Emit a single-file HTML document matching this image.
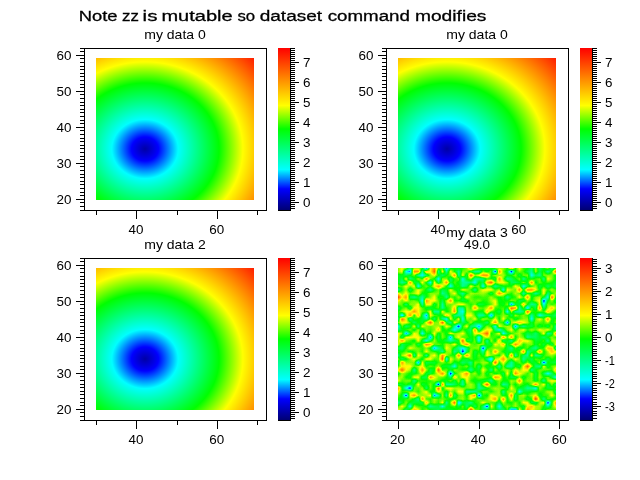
<!DOCTYPE html>
<html><head><meta charset="utf-8"><style>html,body{margin:0;padding:0;background:#fff;overflow:hidden}svg{display:block;will-change:transform}text{font-family:"Liberation Sans",sans-serif;fill:#000;opacity:0.999}</style></head>
<body><svg width="640" height="480" viewBox="0 0 640 480" shape-rendering="crispEdges">
<defs><linearGradient id="cb" x1="0" y1="1" x2="0" y2="0"><stop offset="0.0000" stop-color="#000073"/><stop offset="0.1300" stop-color="#0000ff"/><stop offset="0.2500" stop-color="#00ffff"/><stop offset="0.5000" stop-color="#00ff00"/><stop offset="0.6450" stop-color="#ffff00"/><stop offset="1.0000" stop-color="#ff0000"/></linearGradient>
<radialGradient id="r1" gradientUnits="userSpaceOnUse" cx="0" cy="0" r="38.575" gradientTransform="translate(145.00 149.00) scale(4.044 3.6)"><stop offset="0.0000" stop-color="#0000a6"/><stop offset="0.0866" stop-color="#0000ff"/><stop offset="0.2126" stop-color="#00ffff"/><stop offset="0.4750" stop-color="#00ff00"/><stop offset="0.6273" stop-color="#ffff00"/><stop offset="1.0000" stop-color="#ff0000"/></radialGradient>
<radialGradient id="r2" gradientUnits="userSpaceOnUse" cx="0" cy="0" r="38.575" gradientTransform="translate(447.00 149.00) scale(4.044 3.6)"><stop offset="0.0000" stop-color="#0000a6"/><stop offset="0.0866" stop-color="#0000ff"/><stop offset="0.2126" stop-color="#00ffff"/><stop offset="0.4750" stop-color="#00ff00"/><stop offset="0.6273" stop-color="#ffff00"/><stop offset="1.0000" stop-color="#ff0000"/></radialGradient>
<radialGradient id="r3" gradientUnits="userSpaceOnUse" cx="0" cy="0" r="38.575" gradientTransform="translate(145.00 359.00) scale(4.044 3.6)"><stop offset="0.0000" stop-color="#0000a6"/><stop offset="0.0866" stop-color="#0000ff"/><stop offset="0.2126" stop-color="#00ffff"/><stop offset="0.4750" stop-color="#00ff00"/><stop offset="0.6273" stop-color="#ffff00"/><stop offset="1.0000" stop-color="#ff0000"/></radialGradient>
<filter id="jet" filterUnits="userSpaceOnUse" x="380" y="250" width="200" height="180" color-interpolation-filters="sRGB"><feComponentTransfer><feFuncR type="table" tableValues="0 0 0 0 0 0 0 0 0 0 0 0 0 0 0 0 0 0 0 0 0 0 0 0 0 0 0 0 0 0 0 0 0 0 0 0 0 0 0 0 0 0 0 0 0 0 0 0 0 0 0 0 0 0 0 0 0 0 0 0 0 0 0 0 0 0 0 0 0 0 0 0 0 0 0 0 0 0 0 0 0 0 0 0 0 0 0 0 0 0 0 0 0 0 0 0 0 0 0 0 0 0.03448 0.06897 0.1034 0.1379 0.1724 0.2069 0.2414 0.2759 0.3103 0.3448 0.3793 0.4138 0.4483 0.4828 0.5172 0.5517 0.5862 0.6207 0.6552 0.6897 0.7241 0.7586 0.7931 0.8276 0.8621 0.8966 0.931 0.9655 1 1 1 1 1 1 1 1 1 1 1 1 1 1 1 1 1 1 1 1 1 1 1 1 1 1 1 1 1 1 1 1 1 1 1 1 1 1 1 1 1 1 1 1 1 1 1 1 1 1 1 1 1 1 1 1 1 1 1 1 1 1 1 1 1 1 1 1 1 1 1 1"/><feFuncG type="table" tableValues="0 0 0 0 0 0 0 0 0 0 0 0 0 0 0 0 0 0 0 0 0 0 0 0 0 0 0 0.04167 0.08333 0.125 0.1667 0.2083 0.25 0.2917 0.3333 0.375 0.4167 0.4583 0.5 0.5417 0.5833 0.625 0.6667 0.7083 0.75 0.7917 0.8333 0.875 0.9167 0.9583 1 1 1 1 1 1 1 1 1 1 1 1 1 1 1 1 1 1 1 1 1 1 1 1 1 1 1 1 1 1 1 1 1 1 1 1 1 1 1 1 1 1 1 1 1 1 1 1 1 1 1 1 1 1 1 1 1 1 1 1 1 1 1 1 1 1 1 1 1 1 1 1 1 1 1 1 1 1 1 1 0.9859 0.9718 0.9577 0.9437 0.9296 0.9155 0.9014 0.8873 0.8732 0.8592 0.8451 0.831 0.8169 0.8028 0.7887 0.7746 0.7606 0.7465 0.7324 0.7183 0.7042 0.6901 0.6761 0.662 0.6479 0.6338 0.6197 0.6056 0.5915 0.5775 0.5634 0.5493 0.5352 0.5211 0.507 0.493 0.4789 0.4648 0.4507 0.4366 0.4225 0.4085 0.3944 0.3803 0.3662 0.3521 0.338 0.3239 0.3099 0.2958 0.2817 0.2676 0.2535 0.2394 0.2254 0.2113 0.1972 0.1831 0.169 0.1549 0.1408 0.1268 0.1127 0.09859 0.08451 0.07042 0.05634 0.04225 0.02817 0.01408 0"/><feFuncB type="table" tableValues="0.451 0.4721 0.4932 0.5143 0.5354 0.5566 0.5777 0.5988 0.6199 0.641 0.6621 0.6833 0.7044 0.7255 0.7466 0.7677 0.7888 0.81 0.8311 0.8522 0.8733 0.8944 0.9155 0.9367 0.9578 0.9789 1 1 1 1 1 1 1 1 1 1 1 1 1 1 1 1 1 1 1 1 1 1 1 1 1 0.98 0.96 0.94 0.92 0.9 0.88 0.86 0.84 0.82 0.8 0.78 0.76 0.74 0.72 0.7 0.68 0.66 0.64 0.62 0.6 0.58 0.56 0.54 0.52 0.5 0.48 0.46 0.44 0.42 0.4 0.38 0.36 0.34 0.32 0.3 0.28 0.26 0.24 0.22 0.2 0.18 0.16 0.14 0.12 0.1 0.08 0.06 0.04 0.02 0 0 0 0 0 0 0 0 0 0 0 0 0 0 0 0 0 0 0 0 0 0 0 0 0 0 0 0 0 0 0 0 0 0 0 0 0 0 0 0 0 0 0 0 0 0 0 0 0 0 0 0 0 0 0 0 0 0 0 0 0 0 0 0 0 0 0 0 0 0 0 0 0 0 0 0 0 0 0 0 0 0 0 0 0 0 0 0 0 0 0 0 0 0 0 0 0 0 0 0 0"/></feComponentTransfer></filter>
<clipPath id="clip4"><rect x="398" y="268" width="158" height="142"/></clipPath>
<linearGradient id="row0" gradientUnits="userSpaceOnUse" x1="398" y1="0" x2="556" y2="0"><stop offset="0.0000" stop-color="#a6a6a6"/><stop offset="0.0256" stop-color="#8e8e8e"/><stop offset="0.0513" stop-color="#656565"/><stop offset="0.0769" stop-color="#8d8d8d"/><stop offset="0.1026" stop-color="#b8b8b8"/><stop offset="0.1282" stop-color="#a6a6a6"/><stop offset="0.1538" stop-color="#828282"/><stop offset="0.1795" stop-color="#949494"/><stop offset="0.2051" stop-color="#818181"/><stop offset="0.2308" stop-color="#747474"/><stop offset="0.2564" stop-color="#6d6d6d"/><stop offset="0.2821" stop-color="#8c8c8c"/><stop offset="0.3077" stop-color="#7b7b7b"/><stop offset="0.3333" stop-color="#757575"/><stop offset="0.3590" stop-color="#7b7b7b"/><stop offset="0.3846" stop-color="#898989"/><stop offset="0.4103" stop-color="#818181"/><stop offset="0.4359" stop-color="#818181"/><stop offset="0.4615" stop-color="#efefef"/><stop offset="0.4872" stop-color="#939393"/><stop offset="0.5128" stop-color="#8a8a8a"/><stop offset="0.5385" stop-color="#656565"/><stop offset="0.5641" stop-color="#7c7c7c"/><stop offset="0.5897" stop-color="#858585"/><stop offset="0.6154" stop-color="#848484"/><stop offset="0.6410" stop-color="#6d6d6d"/><stop offset="0.6667" stop-color="#676767"/><stop offset="0.6923" stop-color="#8b8b8b"/><stop offset="0.7179" stop-color="#2e2e2e"/><stop offset="0.7436" stop-color="#2e2e2e"/><stop offset="0.7692" stop-color="#a6a6a6"/><stop offset="0.7949" stop-color="#777777"/><stop offset="0.8205" stop-color="#cacaca"/><stop offset="0.8462" stop-color="#a6a6a6"/><stop offset="0.8718" stop-color="#989898"/><stop offset="0.8974" stop-color="#929292"/><stop offset="0.9231" stop-color="#757575"/><stop offset="0.9487" stop-color="#979797"/><stop offset="0.9744" stop-color="#898989"/><stop offset="1.0000" stop-color="#8a8a8a"/></linearGradient>
<linearGradient id="row1" gradientUnits="userSpaceOnUse" x1="398" y1="0" x2="556" y2="0"><stop offset="0.0000" stop-color="#858585"/><stop offset="0.0256" stop-color="#a6a6a6"/><stop offset="0.0513" stop-color="#8c8c8c"/><stop offset="0.0769" stop-color="#414141"/><stop offset="0.1026" stop-color="#989898"/><stop offset="0.1282" stop-color="#868686"/><stop offset="0.1538" stop-color="#858585"/><stop offset="0.1795" stop-color="#7d7d7d"/><stop offset="0.2051" stop-color="#5a5a5a"/><stop offset="0.2308" stop-color="#686868"/><stop offset="0.2564" stop-color="#707070"/><stop offset="0.2821" stop-color="#414141"/><stop offset="0.3077" stop-color="#787878"/><stop offset="0.3333" stop-color="#838383"/><stop offset="0.3590" stop-color="#8a8a8a"/><stop offset="0.3846" stop-color="#707070"/><stop offset="0.4103" stop-color="#8f8f8f"/><stop offset="0.4359" stop-color="#656565"/><stop offset="0.4615" stop-color="#8b8b8b"/><stop offset="0.4872" stop-color="#686868"/><stop offset="0.5128" stop-color="#8e8e8e"/><stop offset="0.5385" stop-color="#656565"/><stop offset="0.5641" stop-color="#1c1c1c"/><stop offset="0.5897" stop-color="#a6a6a6"/><stop offset="0.6154" stop-color="#818181"/><stop offset="0.6410" stop-color="#414141"/><stop offset="0.6667" stop-color="#808080"/><stop offset="0.6923" stop-color="#929292"/><stop offset="0.7179" stop-color="#888888"/><stop offset="0.7436" stop-color="#989898"/><stop offset="0.7692" stop-color="#858585"/><stop offset="0.7949" stop-color="#777777"/><stop offset="0.8205" stop-color="#a6a6a6"/><stop offset="0.8462" stop-color="#b8b8b8"/><stop offset="0.8718" stop-color="#989898"/><stop offset="0.8974" stop-color="#989898"/><stop offset="0.9231" stop-color="#808080"/><stop offset="0.9487" stop-color="#5a5a5a"/><stop offset="0.9744" stop-color="#8b8b8b"/><stop offset="1.0000" stop-color="#a6a6a6"/></linearGradient>
<linearGradient id="row2" gradientUnits="userSpaceOnUse" x1="398" y1="0" x2="556" y2="0"><stop offset="0.0000" stop-color="#5a5a5a"/><stop offset="0.0256" stop-color="#777777"/><stop offset="0.0513" stop-color="#939393"/><stop offset="0.0769" stop-color="#777777"/><stop offset="0.1026" stop-color="#727272"/><stop offset="0.1282" stop-color="#767676"/><stop offset="0.1538" stop-color="#6e6e6e"/><stop offset="0.1795" stop-color="#b8b8b8"/><stop offset="0.2051" stop-color="#848484"/><stop offset="0.2308" stop-color="#939393"/><stop offset="0.2564" stop-color="#858585"/><stop offset="0.2821" stop-color="#a6a6a6"/><stop offset="0.3077" stop-color="#5a5a5a"/><stop offset="0.3333" stop-color="#939393"/><stop offset="0.3590" stop-color="#dddddd"/><stop offset="0.3846" stop-color="#2e2e2e"/><stop offset="0.4103" stop-color="#717171"/><stop offset="0.4359" stop-color="#6c6c6c"/><stop offset="0.4615" stop-color="#5a5a5a"/><stop offset="0.4872" stop-color="#848484"/><stop offset="0.5128" stop-color="#888888"/><stop offset="0.5385" stop-color="#a6a6a6"/><stop offset="0.5641" stop-color="#8f8f8f"/><stop offset="0.5897" stop-color="#8c8c8c"/><stop offset="0.6154" stop-color="#868686"/><stop offset="0.6410" stop-color="#6d6d6d"/><stop offset="0.6667" stop-color="#989898"/><stop offset="0.6923" stop-color="#818181"/><stop offset="0.7179" stop-color="#7f7f7f"/><stop offset="0.7436" stop-color="#929292"/><stop offset="0.7692" stop-color="#818181"/><stop offset="0.7949" stop-color="#a6a6a6"/><stop offset="0.8205" stop-color="#a6a6a6"/><stop offset="0.8462" stop-color="#717171"/><stop offset="0.8718" stop-color="#6e6e6e"/><stop offset="0.8974" stop-color="#989898"/><stop offset="0.9231" stop-color="#a6a6a6"/><stop offset="0.9487" stop-color="#1c1c1c"/><stop offset="0.9744" stop-color="#7d7d7d"/><stop offset="1.0000" stop-color="#cacaca"/></linearGradient>
<linearGradient id="row3" gradientUnits="userSpaceOnUse" x1="398" y1="0" x2="556" y2="0"><stop offset="0.0000" stop-color="#818181"/><stop offset="0.0256" stop-color="#7c7c7c"/><stop offset="0.0513" stop-color="#858585"/><stop offset="0.0769" stop-color="#8e8e8e"/><stop offset="0.1026" stop-color="#787878"/><stop offset="0.1282" stop-color="#5a5a5a"/><stop offset="0.1538" stop-color="#cacaca"/><stop offset="0.1795" stop-color="#888888"/><stop offset="0.2051" stop-color="#828282"/><stop offset="0.2308" stop-color="#989898"/><stop offset="0.2564" stop-color="#898989"/><stop offset="0.2821" stop-color="#8e8e8e"/><stop offset="0.3077" stop-color="#8b8b8b"/><stop offset="0.3333" stop-color="#797979"/><stop offset="0.3590" stop-color="#808080"/><stop offset="0.3846" stop-color="#929292"/><stop offset="0.4103" stop-color="#979797"/><stop offset="0.4359" stop-color="#838383"/><stop offset="0.4615" stop-color="#a6a6a6"/><stop offset="0.4872" stop-color="#838383"/><stop offset="0.5128" stop-color="#929292"/><stop offset="0.5385" stop-color="#7f7f7f"/><stop offset="0.5641" stop-color="#909090"/><stop offset="0.5897" stop-color="#a6a6a6"/><stop offset="0.6154" stop-color="#cacaca"/><stop offset="0.6410" stop-color="#808080"/><stop offset="0.6667" stop-color="#cacaca"/><stop offset="0.6923" stop-color="#797979"/><stop offset="0.7179" stop-color="#a6a6a6"/><stop offset="0.7436" stop-color="#6b6b6b"/><stop offset="0.7692" stop-color="#919191"/><stop offset="0.7949" stop-color="#8d8d8d"/><stop offset="0.8205" stop-color="#737373"/><stop offset="0.8462" stop-color="#818181"/><stop offset="0.8718" stop-color="#efefef"/><stop offset="0.8974" stop-color="#8f8f8f"/><stop offset="0.9231" stop-color="#5a5a5a"/><stop offset="0.9487" stop-color="#8e8e8e"/><stop offset="0.9744" stop-color="#7e7e7e"/><stop offset="1.0000" stop-color="#7f7f7f"/></linearGradient>
<linearGradient id="row4" gradientUnits="userSpaceOnUse" x1="398" y1="0" x2="556" y2="0"><stop offset="0.0000" stop-color="#8f8f8f"/><stop offset="0.0256" stop-color="#797979"/><stop offset="0.0513" stop-color="#1c1c1c"/><stop offset="0.0769" stop-color="#a6a6a6"/><stop offset="0.1026" stop-color="#cacaca"/><stop offset="0.1282" stop-color="#989898"/><stop offset="0.1538" stop-color="#939393"/><stop offset="0.1795" stop-color="#989898"/><stop offset="0.2051" stop-color="#a6a6a6"/><stop offset="0.2308" stop-color="#2e2e2e"/><stop offset="0.2564" stop-color="#5a5a5a"/><stop offset="0.2821" stop-color="#989898"/><stop offset="0.3077" stop-color="#5a5a5a"/><stop offset="0.3333" stop-color="#cacaca"/><stop offset="0.3590" stop-color="#656565"/><stop offset="0.3846" stop-color="#8d8d8d"/><stop offset="0.4103" stop-color="#929292"/><stop offset="0.4359" stop-color="#7c7c7c"/><stop offset="0.4615" stop-color="#a6a6a6"/><stop offset="0.4872" stop-color="#cacaca"/><stop offset="0.5128" stop-color="#1c1c1c"/><stop offset="0.5385" stop-color="#858585"/><stop offset="0.5641" stop-color="#7c7c7c"/><stop offset="0.5897" stop-color="#a6a6a6"/><stop offset="0.6154" stop-color="#989898"/><stop offset="0.6410" stop-color="#989898"/><stop offset="0.6667" stop-color="#797979"/><stop offset="0.6923" stop-color="#838383"/><stop offset="0.7179" stop-color="#cacaca"/><stop offset="0.7436" stop-color="#6a6a6a"/><stop offset="0.7692" stop-color="#929292"/><stop offset="0.7949" stop-color="#989898"/><stop offset="0.8205" stop-color="#858585"/><stop offset="0.8462" stop-color="#979797"/><stop offset="0.8718" stop-color="#a6a6a6"/><stop offset="0.8974" stop-color="#777777"/><stop offset="0.9231" stop-color="#888888"/><stop offset="0.9487" stop-color="#878787"/><stop offset="0.9744" stop-color="#a6a6a6"/><stop offset="1.0000" stop-color="#858585"/></linearGradient>
<linearGradient id="row5" gradientUnits="userSpaceOnUse" x1="398" y1="0" x2="556" y2="0"><stop offset="0.0000" stop-color="#a6a6a6"/><stop offset="0.0256" stop-color="#848484"/><stop offset="0.0513" stop-color="#909090"/><stop offset="0.0769" stop-color="#949494"/><stop offset="0.1026" stop-color="#939393"/><stop offset="0.1282" stop-color="#848484"/><stop offset="0.1538" stop-color="#989898"/><stop offset="0.1795" stop-color="#a6a6a6"/><stop offset="0.2051" stop-color="#7d7d7d"/><stop offset="0.2308" stop-color="#808080"/><stop offset="0.2564" stop-color="#a6a6a6"/><stop offset="0.2821" stop-color="#8f8f8f"/><stop offset="0.3077" stop-color="#757575"/><stop offset="0.3333" stop-color="#989898"/><stop offset="0.3590" stop-color="#868686"/><stop offset="0.3846" stop-color="#a6a6a6"/><stop offset="0.4103" stop-color="#a6a6a6"/><stop offset="0.4359" stop-color="#5a5a5a"/><stop offset="0.4615" stop-color="#5a5a5a"/><stop offset="0.4872" stop-color="#5a5a5a"/><stop offset="0.5128" stop-color="#757575"/><stop offset="0.5385" stop-color="#929292"/><stop offset="0.5641" stop-color="#8f8f8f"/><stop offset="0.5897" stop-color="#808080"/><stop offset="0.6154" stop-color="#909090"/><stop offset="0.6410" stop-color="#989898"/><stop offset="0.6667" stop-color="#5a5a5a"/><stop offset="0.6923" stop-color="#929292"/><stop offset="0.7179" stop-color="#919191"/><stop offset="0.7436" stop-color="#989898"/><stop offset="0.7692" stop-color="#414141"/><stop offset="0.7949" stop-color="#757575"/><stop offset="0.8205" stop-color="#797979"/><stop offset="0.8462" stop-color="#818181"/><stop offset="0.8718" stop-color="#848484"/><stop offset="0.8974" stop-color="#848484"/><stop offset="0.9231" stop-color="#858585"/><stop offset="0.9487" stop-color="#989898"/><stop offset="0.9744" stop-color="#989898"/><stop offset="1.0000" stop-color="#686868"/></linearGradient>
<linearGradient id="row6" gradientUnits="userSpaceOnUse" x1="398" y1="0" x2="556" y2="0"><stop offset="0.0000" stop-color="#cacaca"/><stop offset="0.0256" stop-color="#7f7f7f"/><stop offset="0.0513" stop-color="#414141"/><stop offset="0.0769" stop-color="#1c1c1c"/><stop offset="0.1026" stop-color="#8f8f8f"/><stop offset="0.1282" stop-color="#8c8c8c"/><stop offset="0.1538" stop-color="#989898"/><stop offset="0.1795" stop-color="#656565"/><stop offset="0.2051" stop-color="#909090"/><stop offset="0.2308" stop-color="#7a7a7a"/><stop offset="0.2564" stop-color="#dddddd"/><stop offset="0.2821" stop-color="#767676"/><stop offset="0.3077" stop-color="#a6a6a6"/><stop offset="0.3333" stop-color="#a6a6a6"/><stop offset="0.3590" stop-color="#989898"/><stop offset="0.3846" stop-color="#989898"/><stop offset="0.4103" stop-color="#929292"/><stop offset="0.4359" stop-color="#8f8f8f"/><stop offset="0.4615" stop-color="#959595"/><stop offset="0.4872" stop-color="#8b8b8b"/><stop offset="0.5128" stop-color="#5a5a5a"/><stop offset="0.5385" stop-color="#656565"/><stop offset="0.5641" stop-color="#787878"/><stop offset="0.5897" stop-color="#8e8e8e"/><stop offset="0.6154" stop-color="#989898"/><stop offset="0.6410" stop-color="#929292"/><stop offset="0.6667" stop-color="#929292"/><stop offset="0.6923" stop-color="#747474"/><stop offset="0.7179" stop-color="#a6a6a6"/><stop offset="0.7436" stop-color="#8a8a8a"/><stop offset="0.7692" stop-color="#787878"/><stop offset="0.7949" stop-color="#717171"/><stop offset="0.8205" stop-color="#5a5a5a"/><stop offset="0.8462" stop-color="#5a5a5a"/><stop offset="0.8718" stop-color="#414141"/><stop offset="0.8974" stop-color="#989898"/><stop offset="0.9231" stop-color="#858585"/><stop offset="0.9487" stop-color="#737373"/><stop offset="0.9744" stop-color="#707070"/><stop offset="1.0000" stop-color="#8b8b8b"/></linearGradient>
<linearGradient id="row7" gradientUnits="userSpaceOnUse" x1="398" y1="0" x2="556" y2="0"><stop offset="0.0000" stop-color="#696969"/><stop offset="0.0256" stop-color="#7a7a7a"/><stop offset="0.0513" stop-color="#848484"/><stop offset="0.0769" stop-color="#757575"/><stop offset="0.1026" stop-color="#7a7a7a"/><stop offset="0.1282" stop-color="#a6a6a6"/><stop offset="0.1538" stop-color="#747474"/><stop offset="0.1795" stop-color="#7c7c7c"/><stop offset="0.2051" stop-color="#909090"/><stop offset="0.2308" stop-color="#7b7b7b"/><stop offset="0.2564" stop-color="#1c1c1c"/><stop offset="0.2821" stop-color="#cacaca"/><stop offset="0.3077" stop-color="#5a5a5a"/><stop offset="0.3333" stop-color="#5a5a5a"/><stop offset="0.3590" stop-color="#6c6c6c"/><stop offset="0.3846" stop-color="#7f7f7f"/><stop offset="0.4103" stop-color="#5a5a5a"/><stop offset="0.4359" stop-color="#929292"/><stop offset="0.4615" stop-color="#989898"/><stop offset="0.4872" stop-color="#898989"/><stop offset="0.5128" stop-color="#5a5a5a"/><stop offset="0.5385" stop-color="#969696"/><stop offset="0.5641" stop-color="#dddddd"/><stop offset="0.5897" stop-color="#818181"/><stop offset="0.6154" stop-color="#7a7a7a"/><stop offset="0.6410" stop-color="#929292"/><stop offset="0.6667" stop-color="#5a5a5a"/><stop offset="0.6923" stop-color="#6a6a6a"/><stop offset="0.7179" stop-color="#929292"/><stop offset="0.7436" stop-color="#7c7c7c"/><stop offset="0.7692" stop-color="#919191"/><stop offset="0.7949" stop-color="#838383"/><stop offset="0.8205" stop-color="#797979"/><stop offset="0.8462" stop-color="#929292"/><stop offset="0.8718" stop-color="#cacaca"/><stop offset="0.8974" stop-color="#8c8c8c"/><stop offset="0.9231" stop-color="#a6a6a6"/><stop offset="0.9487" stop-color="#6a6a6a"/><stop offset="0.9744" stop-color="#929292"/><stop offset="1.0000" stop-color="#656565"/></linearGradient>
<linearGradient id="row8" gradientUnits="userSpaceOnUse" x1="398" y1="0" x2="556" y2="0"><stop offset="0.0000" stop-color="#a6a6a6"/><stop offset="0.0256" stop-color="#8a8a8a"/><stop offset="0.0513" stop-color="#909090"/><stop offset="0.0769" stop-color="#929292"/><stop offset="0.1026" stop-color="#5a5a5a"/><stop offset="0.1282" stop-color="#828282"/><stop offset="0.1538" stop-color="#878787"/><stop offset="0.1795" stop-color="#848484"/><stop offset="0.2051" stop-color="#848484"/><stop offset="0.2308" stop-color="#929292"/><stop offset="0.2564" stop-color="#8b8b8b"/><stop offset="0.2821" stop-color="#7a7a7a"/><stop offset="0.3077" stop-color="#7c7c7c"/><stop offset="0.3333" stop-color="#929292"/><stop offset="0.3590" stop-color="#727272"/><stop offset="0.3846" stop-color="#989898"/><stop offset="0.4103" stop-color="#5a5a5a"/><stop offset="0.4359" stop-color="#a6a6a6"/><stop offset="0.4615" stop-color="#848484"/><stop offset="0.4872" stop-color="#7a7a7a"/><stop offset="0.5128" stop-color="#7f7f7f"/><stop offset="0.5385" stop-color="#747474"/><stop offset="0.5641" stop-color="#767676"/><stop offset="0.5897" stop-color="#5a5a5a"/><stop offset="0.6154" stop-color="#818181"/><stop offset="0.6410" stop-color="#929292"/><stop offset="0.6667" stop-color="#808080"/><stop offset="0.6923" stop-color="#7e7e7e"/><stop offset="0.7179" stop-color="#989898"/><stop offset="0.7436" stop-color="#929292"/><stop offset="0.7692" stop-color="#cacaca"/><stop offset="0.7949" stop-color="#858585"/><stop offset="0.8205" stop-color="#929292"/><stop offset="0.8462" stop-color="#919191"/><stop offset="0.8718" stop-color="#767676"/><stop offset="0.8974" stop-color="#8b8b8b"/><stop offset="0.9231" stop-color="#5a5a5a"/><stop offset="0.9487" stop-color="#989898"/><stop offset="0.9744" stop-color="#a6a6a6"/><stop offset="1.0000" stop-color="#a6a6a6"/></linearGradient>
<linearGradient id="row9" gradientUnits="userSpaceOnUse" x1="398" y1="0" x2="556" y2="0"><stop offset="0.0000" stop-color="#929292"/><stop offset="0.0256" stop-color="#989898"/><stop offset="0.0513" stop-color="#7e7e7e"/><stop offset="0.0769" stop-color="#797979"/><stop offset="0.1026" stop-color="#a6a6a6"/><stop offset="0.1282" stop-color="#a6a6a6"/><stop offset="0.1538" stop-color="#6f6f6f"/><stop offset="0.1795" stop-color="#6c6c6c"/><stop offset="0.2051" stop-color="#cacaca"/><stop offset="0.2308" stop-color="#a6a6a6"/><stop offset="0.2564" stop-color="#929292"/><stop offset="0.2821" stop-color="#8f8f8f"/><stop offset="0.3077" stop-color="#818181"/><stop offset="0.3333" stop-color="#656565"/><stop offset="0.3590" stop-color="#b8b8b8"/><stop offset="0.3846" stop-color="#878787"/><stop offset="0.4103" stop-color="#a6a6a6"/><stop offset="0.4359" stop-color="#a6a6a6"/><stop offset="0.4615" stop-color="#8f8f8f"/><stop offset="0.4872" stop-color="#858585"/><stop offset="0.5128" stop-color="#929292"/><stop offset="0.5385" stop-color="#939393"/><stop offset="0.5641" stop-color="#858585"/><stop offset="0.5897" stop-color="#828282"/><stop offset="0.6154" stop-color="#cacaca"/><stop offset="0.6410" stop-color="#b8b8b8"/><stop offset="0.6667" stop-color="#7b7b7b"/><stop offset="0.6923" stop-color="#898989"/><stop offset="0.7179" stop-color="#6b6b6b"/><stop offset="0.7436" stop-color="#707070"/><stop offset="0.7692" stop-color="#929292"/><stop offset="0.7949" stop-color="#757575"/><stop offset="0.8205" stop-color="#8a8a8a"/><stop offset="0.8462" stop-color="#929292"/><stop offset="0.8718" stop-color="#717171"/><stop offset="0.8974" stop-color="#989898"/><stop offset="0.9231" stop-color="#838383"/><stop offset="0.9487" stop-color="#929292"/><stop offset="0.9744" stop-color="#707070"/><stop offset="1.0000" stop-color="#414141"/></linearGradient>
<linearGradient id="row10" gradientUnits="userSpaceOnUse" x1="398" y1="0" x2="556" y2="0"><stop offset="0.0000" stop-color="#757575"/><stop offset="0.0256" stop-color="#989898"/><stop offset="0.0513" stop-color="#8d8d8d"/><stop offset="0.0769" stop-color="#7d7d7d"/><stop offset="0.1026" stop-color="#7a7a7a"/><stop offset="0.1282" stop-color="#8a8a8a"/><stop offset="0.1538" stop-color="#a6a6a6"/><stop offset="0.1795" stop-color="#767676"/><stop offset="0.2051" stop-color="#737373"/><stop offset="0.2308" stop-color="#8a8a8a"/><stop offset="0.2564" stop-color="#a6a6a6"/><stop offset="0.2821" stop-color="#cacaca"/><stop offset="0.3077" stop-color="#909090"/><stop offset="0.3333" stop-color="#1c1c1c"/><stop offset="0.3590" stop-color="#7d7d7d"/><stop offset="0.3846" stop-color="#939393"/><stop offset="0.4103" stop-color="#a6a6a6"/><stop offset="0.4359" stop-color="#cacaca"/><stop offset="0.4615" stop-color="#8b8b8b"/><stop offset="0.4872" stop-color="#989898"/><stop offset="0.5128" stop-color="#797979"/><stop offset="0.5385" stop-color="#989898"/><stop offset="0.5641" stop-color="#747474"/><stop offset="0.5897" stop-color="#929292"/><stop offset="0.6154" stop-color="#7a7a7a"/><stop offset="0.6410" stop-color="#898989"/><stop offset="0.6667" stop-color="#6e6e6e"/><stop offset="0.6923" stop-color="#a6a6a6"/><stop offset="0.7179" stop-color="#747474"/><stop offset="0.7436" stop-color="#cacaca"/><stop offset="0.7692" stop-color="#a6a6a6"/><stop offset="0.7949" stop-color="#989898"/><stop offset="0.8205" stop-color="#858585"/><stop offset="0.8462" stop-color="#989898"/><stop offset="0.8718" stop-color="#707070"/><stop offset="0.8974" stop-color="#929292"/><stop offset="0.9231" stop-color="#6e6e6e"/><stop offset="0.9487" stop-color="#414141"/><stop offset="0.9744" stop-color="#6a6a6a"/><stop offset="1.0000" stop-color="#8a8a8a"/></linearGradient>
<linearGradient id="row11" gradientUnits="userSpaceOnUse" x1="398" y1="0" x2="556" y2="0"><stop offset="0.0000" stop-color="#a6a6a6"/><stop offset="0.0256" stop-color="#dddddd"/><stop offset="0.0513" stop-color="#a6a6a6"/><stop offset="0.0769" stop-color="#989898"/><stop offset="0.1026" stop-color="#5a5a5a"/><stop offset="0.1282" stop-color="#8e8e8e"/><stop offset="0.1538" stop-color="#cacaca"/><stop offset="0.1795" stop-color="#989898"/><stop offset="0.2051" stop-color="#707070"/><stop offset="0.2308" stop-color="#7f7f7f"/><stop offset="0.2564" stop-color="#dddddd"/><stop offset="0.2821" stop-color="#868686"/><stop offset="0.3077" stop-color="#8e8e8e"/><stop offset="0.3333" stop-color="#777777"/><stop offset="0.3590" stop-color="#989898"/><stop offset="0.3846" stop-color="#898989"/><stop offset="0.4103" stop-color="#808080"/><stop offset="0.4359" stop-color="#797979"/><stop offset="0.4615" stop-color="#5a5a5a"/><stop offset="0.4872" stop-color="#7e7e7e"/><stop offset="0.5128" stop-color="#757575"/><stop offset="0.5385" stop-color="#a6a6a6"/><stop offset="0.5641" stop-color="#8b8b8b"/><stop offset="0.5897" stop-color="#5a5a5a"/><stop offset="0.6154" stop-color="#989898"/><stop offset="0.6410" stop-color="#7d7d7d"/><stop offset="0.6667" stop-color="#929292"/><stop offset="0.6923" stop-color="#989898"/><stop offset="0.7179" stop-color="#868686"/><stop offset="0.7436" stop-color="#a6a6a6"/><stop offset="0.7692" stop-color="#929292"/><stop offset="0.7949" stop-color="#a6a6a6"/><stop offset="0.8205" stop-color="#a6a6a6"/><stop offset="0.8462" stop-color="#5a5a5a"/><stop offset="0.8718" stop-color="#7f7f7f"/><stop offset="0.8974" stop-color="#8f8f8f"/><stop offset="0.9231" stop-color="#8e8e8e"/><stop offset="0.9487" stop-color="#929292"/><stop offset="0.9744" stop-color="#838383"/><stop offset="1.0000" stop-color="#b8b8b8"/></linearGradient>
<linearGradient id="row12" gradientUnits="userSpaceOnUse" x1="398" y1="0" x2="556" y2="0"><stop offset="0.0000" stop-color="#838383"/><stop offset="0.0256" stop-color="#a6a6a6"/><stop offset="0.0513" stop-color="#a6a6a6"/><stop offset="0.0769" stop-color="#a6a6a6"/><stop offset="0.1026" stop-color="#8c8c8c"/><stop offset="0.1282" stop-color="#989898"/><stop offset="0.1538" stop-color="#a6a6a6"/><stop offset="0.1795" stop-color="#7f7f7f"/><stop offset="0.2051" stop-color="#8e8e8e"/><stop offset="0.2308" stop-color="#848484"/><stop offset="0.2564" stop-color="#989898"/><stop offset="0.2821" stop-color="#777777"/><stop offset="0.3077" stop-color="#767676"/><stop offset="0.3333" stop-color="#6e6e6e"/><stop offset="0.3590" stop-color="#414141"/><stop offset="0.3846" stop-color="#8b8b8b"/><stop offset="0.4103" stop-color="#858585"/><stop offset="0.4359" stop-color="#929292"/><stop offset="0.4615" stop-color="#6e6e6e"/><stop offset="0.4872" stop-color="#8d8d8d"/><stop offset="0.5128" stop-color="#656565"/><stop offset="0.5385" stop-color="#8e8e8e"/><stop offset="0.5641" stop-color="#777777"/><stop offset="0.5897" stop-color="#858585"/><stop offset="0.6154" stop-color="#808080"/><stop offset="0.6410" stop-color="#5a5a5a"/><stop offset="0.6667" stop-color="#909090"/><stop offset="0.6923" stop-color="#5a5a5a"/><stop offset="0.7179" stop-color="#5a5a5a"/><stop offset="0.7436" stop-color="#7d7d7d"/><stop offset="0.7692" stop-color="#717171"/><stop offset="0.7949" stop-color="#a6a6a6"/><stop offset="0.8205" stop-color="#dddddd"/><stop offset="0.8462" stop-color="#989898"/><stop offset="0.8718" stop-color="#656565"/><stop offset="0.8974" stop-color="#5a5a5a"/><stop offset="0.9231" stop-color="#a6a6a6"/><stop offset="0.9487" stop-color="#747474"/><stop offset="0.9744" stop-color="#8c8c8c"/><stop offset="1.0000" stop-color="#959595"/></linearGradient>
<linearGradient id="row13" gradientUnits="userSpaceOnUse" x1="398" y1="0" x2="556" y2="0"><stop offset="0.0000" stop-color="#656565"/><stop offset="0.0256" stop-color="#cacaca"/><stop offset="0.0513" stop-color="#959595"/><stop offset="0.0769" stop-color="#939393"/><stop offset="0.1026" stop-color="#929292"/><stop offset="0.1282" stop-color="#2e2e2e"/><stop offset="0.1538" stop-color="#a6a6a6"/><stop offset="0.1795" stop-color="#6d6d6d"/><stop offset="0.2051" stop-color="#727272"/><stop offset="0.2308" stop-color="#757575"/><stop offset="0.2564" stop-color="#878787"/><stop offset="0.2821" stop-color="#929292"/><stop offset="0.3077" stop-color="#848484"/><stop offset="0.3333" stop-color="#959595"/><stop offset="0.3590" stop-color="#777777"/><stop offset="0.3846" stop-color="#808080"/><stop offset="0.4103" stop-color="#656565"/><stop offset="0.4359" stop-color="#737373"/><stop offset="0.4615" stop-color="#5a5a5a"/><stop offset="0.4872" stop-color="#929292"/><stop offset="0.5128" stop-color="#8a8a8a"/><stop offset="0.5385" stop-color="#989898"/><stop offset="0.5641" stop-color="#969696"/><stop offset="0.5897" stop-color="#737373"/><stop offset="0.6154" stop-color="#dddddd"/><stop offset="0.6410" stop-color="#828282"/><stop offset="0.6667" stop-color="#a6a6a6"/><stop offset="0.6923" stop-color="#7f7f7f"/><stop offset="0.7179" stop-color="#5a5a5a"/><stop offset="0.7436" stop-color="#7f7f7f"/><stop offset="0.7692" stop-color="#8f8f8f"/><stop offset="0.7949" stop-color="#787878"/><stop offset="0.8205" stop-color="#929292"/><stop offset="0.8462" stop-color="#787878"/><stop offset="0.8718" stop-color="#787878"/><stop offset="0.8974" stop-color="#969696"/><stop offset="0.9231" stop-color="#1c1c1c"/><stop offset="0.9487" stop-color="#828282"/><stop offset="0.9744" stop-color="#757575"/><stop offset="1.0000" stop-color="#717171"/></linearGradient>
<linearGradient id="row14" gradientUnits="userSpaceOnUse" x1="398" y1="0" x2="556" y2="0"><stop offset="0.0000" stop-color="#989898"/><stop offset="0.0256" stop-color="#656565"/><stop offset="0.0513" stop-color="#7c7c7c"/><stop offset="0.0769" stop-color="#929292"/><stop offset="0.1026" stop-color="#a6a6a6"/><stop offset="0.1282" stop-color="#929292"/><stop offset="0.1538" stop-color="#787878"/><stop offset="0.1795" stop-color="#a6a6a6"/><stop offset="0.2051" stop-color="#a6a6a6"/><stop offset="0.2308" stop-color="#8b8b8b"/><stop offset="0.2564" stop-color="#8c8c8c"/><stop offset="0.2821" stop-color="#dddddd"/><stop offset="0.3077" stop-color="#414141"/><stop offset="0.3333" stop-color="#a6a6a6"/><stop offset="0.3590" stop-color="#8b8b8b"/><stop offset="0.3846" stop-color="#989898"/><stop offset="0.4103" stop-color="#7c7c7c"/><stop offset="0.4359" stop-color="#737373"/><stop offset="0.4615" stop-color="#8e8e8e"/><stop offset="0.4872" stop-color="#7b7b7b"/><stop offset="0.5128" stop-color="#868686"/><stop offset="0.5385" stop-color="#8d8d8d"/><stop offset="0.5641" stop-color="#656565"/><stop offset="0.5897" stop-color="#2e2e2e"/><stop offset="0.6154" stop-color="#959595"/><stop offset="0.6410" stop-color="#a6a6a6"/><stop offset="0.6667" stop-color="#cacaca"/><stop offset="0.6923" stop-color="#989898"/><stop offset="0.7179" stop-color="#878787"/><stop offset="0.7436" stop-color="#a6a6a6"/><stop offset="0.7692" stop-color="#909090"/><stop offset="0.7949" stop-color="#5a5a5a"/><stop offset="0.8205" stop-color="#7a7a7a"/><stop offset="0.8462" stop-color="#6c6c6c"/><stop offset="0.8718" stop-color="#8e8e8e"/><stop offset="0.8974" stop-color="#838383"/><stop offset="0.9231" stop-color="#8d8d8d"/><stop offset="0.9487" stop-color="#6b6b6b"/><stop offset="0.9744" stop-color="#858585"/><stop offset="1.0000" stop-color="#787878"/></linearGradient>
<linearGradient id="row15" gradientUnits="userSpaceOnUse" x1="398" y1="0" x2="556" y2="0"><stop offset="0.0000" stop-color="#5a5a5a"/><stop offset="0.0256" stop-color="#989898"/><stop offset="0.0513" stop-color="#a6a6a6"/><stop offset="0.0769" stop-color="#dddddd"/><stop offset="0.1026" stop-color="#5a5a5a"/><stop offset="0.1282" stop-color="#a6a6a6"/><stop offset="0.1538" stop-color="#929292"/><stop offset="0.1795" stop-color="#5a5a5a"/><stop offset="0.2051" stop-color="#989898"/><stop offset="0.2308" stop-color="#a6a6a6"/><stop offset="0.2564" stop-color="#858585"/><stop offset="0.2821" stop-color="#cacaca"/><stop offset="0.3077" stop-color="#989898"/><stop offset="0.3333" stop-color="#848484"/><stop offset="0.3590" stop-color="#818181"/><stop offset="0.3846" stop-color="#cacaca"/><stop offset="0.4103" stop-color="#848484"/><stop offset="0.4359" stop-color="#cacaca"/><stop offset="0.4615" stop-color="#909090"/><stop offset="0.4872" stop-color="#757575"/><stop offset="0.5128" stop-color="#8e8e8e"/><stop offset="0.5385" stop-color="#757575"/><stop offset="0.5641" stop-color="#a6a6a6"/><stop offset="0.5897" stop-color="#959595"/><stop offset="0.6154" stop-color="#878787"/><stop offset="0.6410" stop-color="#7e7e7e"/><stop offset="0.6667" stop-color="#a6a6a6"/><stop offset="0.6923" stop-color="#6c6c6c"/><stop offset="0.7179" stop-color="#cacaca"/><stop offset="0.7436" stop-color="#5a5a5a"/><stop offset="0.7692" stop-color="#8b8b8b"/><stop offset="0.7949" stop-color="#6c6c6c"/><stop offset="0.8205" stop-color="#5a5a5a"/><stop offset="0.8462" stop-color="#a6a6a6"/><stop offset="0.8718" stop-color="#5a5a5a"/><stop offset="0.8974" stop-color="#656565"/><stop offset="0.9231" stop-color="#838383"/><stop offset="0.9487" stop-color="#929292"/><stop offset="0.9744" stop-color="#959595"/><stop offset="1.0000" stop-color="#858585"/></linearGradient>
<linearGradient id="row16" gradientUnits="userSpaceOnUse" x1="398" y1="0" x2="556" y2="0"><stop offset="0.0000" stop-color="#878787"/><stop offset="0.0256" stop-color="#7e7e7e"/><stop offset="0.0513" stop-color="#8f8f8f"/><stop offset="0.0769" stop-color="#757575"/><stop offset="0.1026" stop-color="#848484"/><stop offset="0.1282" stop-color="#929292"/><stop offset="0.1538" stop-color="#808080"/><stop offset="0.1795" stop-color="#a6a6a6"/><stop offset="0.2051" stop-color="#8b8b8b"/><stop offset="0.2308" stop-color="#868686"/><stop offset="0.2564" stop-color="#787878"/><stop offset="0.2821" stop-color="#5a5a5a"/><stop offset="0.3077" stop-color="#929292"/><stop offset="0.3333" stop-color="#989898"/><stop offset="0.3590" stop-color="#5a5a5a"/><stop offset="0.3846" stop-color="#777777"/><stop offset="0.4103" stop-color="#1c1c1c"/><stop offset="0.4359" stop-color="#6f6f6f"/><stop offset="0.4615" stop-color="#989898"/><stop offset="0.4872" stop-color="#707070"/><stop offset="0.5128" stop-color="#828282"/><stop offset="0.5385" stop-color="#5a5a5a"/><stop offset="0.5641" stop-color="#a6a6a6"/><stop offset="0.5897" stop-color="#878787"/><stop offset="0.6154" stop-color="#cacaca"/><stop offset="0.6410" stop-color="#969696"/><stop offset="0.6667" stop-color="#7d7d7d"/><stop offset="0.6923" stop-color="#767676"/><stop offset="0.7179" stop-color="#767676"/><stop offset="0.7436" stop-color="#7d7d7d"/><stop offset="0.7692" stop-color="#868686"/><stop offset="0.7949" stop-color="#cacaca"/><stop offset="0.8205" stop-color="#5a5a5a"/><stop offset="0.8462" stop-color="#747474"/><stop offset="0.8718" stop-color="#838383"/><stop offset="0.8974" stop-color="#cacaca"/><stop offset="0.9231" stop-color="#7d7d7d"/><stop offset="0.9487" stop-color="#989898"/><stop offset="0.9744" stop-color="#b8b8b8"/><stop offset="1.0000" stop-color="#a6a6a6"/></linearGradient>
<linearGradient id="row17" gradientUnits="userSpaceOnUse" x1="398" y1="0" x2="556" y2="0"><stop offset="0.0000" stop-color="#6d6d6d"/><stop offset="0.0256" stop-color="#666666"/><stop offset="0.0513" stop-color="#828282"/><stop offset="0.0769" stop-color="#a6a6a6"/><stop offset="0.1026" stop-color="#969696"/><stop offset="0.1282" stop-color="#8e8e8e"/><stop offset="0.1538" stop-color="#858585"/><stop offset="0.1795" stop-color="#929292"/><stop offset="0.2051" stop-color="#7d7d7d"/><stop offset="0.2308" stop-color="#2e2e2e"/><stop offset="0.2564" stop-color="#5a5a5a"/><stop offset="0.2821" stop-color="#777777"/><stop offset="0.3077" stop-color="#a6a6a6"/><stop offset="0.3333" stop-color="#949494"/><stop offset="0.3590" stop-color="#757575"/><stop offset="0.3846" stop-color="#5a5a5a"/><stop offset="0.4103" stop-color="#414141"/><stop offset="0.4359" stop-color="#656565"/><stop offset="0.4615" stop-color="#8f8f8f"/><stop offset="0.4872" stop-color="#929292"/><stop offset="0.5128" stop-color="#929292"/><stop offset="0.5385" stop-color="#1c1c1c"/><stop offset="0.5641" stop-color="#7e7e7e"/><stop offset="0.5897" stop-color="#8e8e8e"/><stop offset="0.6154" stop-color="#8d8d8d"/><stop offset="0.6410" stop-color="#8f8f8f"/><stop offset="0.6667" stop-color="#8f8f8f"/><stop offset="0.6923" stop-color="#727272"/><stop offset="0.7179" stop-color="#5a5a5a"/><stop offset="0.7436" stop-color="#878787"/><stop offset="0.7692" stop-color="#727272"/><stop offset="0.7949" stop-color="#828282"/><stop offset="0.8205" stop-color="#8b8b8b"/><stop offset="0.8462" stop-color="#6a6a6a"/><stop offset="0.8718" stop-color="#5a5a5a"/><stop offset="0.8974" stop-color="#797979"/><stop offset="0.9231" stop-color="#848484"/><stop offset="0.9487" stop-color="#b8b8b8"/><stop offset="0.9744" stop-color="#b8b8b8"/><stop offset="1.0000" stop-color="#5a5a5a"/></linearGradient>
<linearGradient id="row18" gradientUnits="userSpaceOnUse" x1="398" y1="0" x2="556" y2="0"><stop offset="0.0000" stop-color="#a6a6a6"/><stop offset="0.0256" stop-color="#6a6a6a"/><stop offset="0.0513" stop-color="#787878"/><stop offset="0.0769" stop-color="#7d7d7d"/><stop offset="0.1026" stop-color="#929292"/><stop offset="0.1282" stop-color="#6c6c6c"/><stop offset="0.1538" stop-color="#868686"/><stop offset="0.1795" stop-color="#cacaca"/><stop offset="0.2051" stop-color="#b8b8b8"/><stop offset="0.2308" stop-color="#8b8b8b"/><stop offset="0.2564" stop-color="#8d8d8d"/><stop offset="0.2821" stop-color="#808080"/><stop offset="0.3077" stop-color="#989898"/><stop offset="0.3333" stop-color="#919191"/><stop offset="0.3590" stop-color="#a6a6a6"/><stop offset="0.3846" stop-color="#787878"/><stop offset="0.4103" stop-color="#a6a6a6"/><stop offset="0.4359" stop-color="#cacaca"/><stop offset="0.4615" stop-color="#8f8f8f"/><stop offset="0.4872" stop-color="#888888"/><stop offset="0.5128" stop-color="#939393"/><stop offset="0.5385" stop-color="#939393"/><stop offset="0.5641" stop-color="#757575"/><stop offset="0.5897" stop-color="#757575"/><stop offset="0.6154" stop-color="#a6a6a6"/><stop offset="0.6410" stop-color="#979797"/><stop offset="0.6667" stop-color="#b8b8b8"/><stop offset="0.6923" stop-color="#707070"/><stop offset="0.7179" stop-color="#949494"/><stop offset="0.7436" stop-color="#cacaca"/><stop offset="0.7692" stop-color="#a6a6a6"/><stop offset="0.7949" stop-color="#828282"/><stop offset="0.8205" stop-color="#909090"/><stop offset="0.8462" stop-color="#929292"/><stop offset="0.8718" stop-color="#767676"/><stop offset="0.8974" stop-color="#898989"/><stop offset="0.9231" stop-color="#727272"/><stop offset="0.9487" stop-color="#8e8e8e"/><stop offset="0.9744" stop-color="#6e6e6e"/><stop offset="1.0000" stop-color="#a6a6a6"/></linearGradient>
<linearGradient id="row19" gradientUnits="userSpaceOnUse" x1="398" y1="0" x2="556" y2="0"><stop offset="0.0000" stop-color="#929292"/><stop offset="0.0256" stop-color="#cacaca"/><stop offset="0.0513" stop-color="#949494"/><stop offset="0.0769" stop-color="#888888"/><stop offset="0.1026" stop-color="#777777"/><stop offset="0.1282" stop-color="#a6a6a6"/><stop offset="0.1538" stop-color="#757575"/><stop offset="0.1795" stop-color="#414141"/><stop offset="0.2051" stop-color="#757575"/><stop offset="0.2308" stop-color="#989898"/><stop offset="0.2564" stop-color="#7a7a7a"/><stop offset="0.2821" stop-color="#7d7d7d"/><stop offset="0.3077" stop-color="#6d6d6d"/><stop offset="0.3333" stop-color="#5a5a5a"/><stop offset="0.3590" stop-color="#686868"/><stop offset="0.3846" stop-color="#7a7a7a"/><stop offset="0.4103" stop-color="#dddddd"/><stop offset="0.4359" stop-color="#707070"/><stop offset="0.4615" stop-color="#727272"/><stop offset="0.4872" stop-color="#929292"/><stop offset="0.5128" stop-color="#414141"/><stop offset="0.5385" stop-color="#979797"/><stop offset="0.5641" stop-color="#5a5a5a"/><stop offset="0.5897" stop-color="#989898"/><stop offset="0.6154" stop-color="#767676"/><stop offset="0.6410" stop-color="#b8b8b8"/><stop offset="0.6667" stop-color="#656565"/><stop offset="0.6923" stop-color="#7b7b7b"/><stop offset="0.7179" stop-color="#5a5a5a"/><stop offset="0.7436" stop-color="#888888"/><stop offset="0.7692" stop-color="#b8b8b8"/><stop offset="0.7949" stop-color="#a6a6a6"/><stop offset="0.8205" stop-color="#a6a6a6"/><stop offset="0.8462" stop-color="#929292"/><stop offset="0.8718" stop-color="#757575"/><stop offset="0.8974" stop-color="#797979"/><stop offset="0.9231" stop-color="#8a8a8a"/><stop offset="0.9487" stop-color="#5a5a5a"/><stop offset="0.9744" stop-color="#989898"/><stop offset="1.0000" stop-color="#989898"/></linearGradient>
<linearGradient id="row20" gradientUnits="userSpaceOnUse" x1="398" y1="0" x2="556" y2="0"><stop offset="0.0000" stop-color="#a6a6a6"/><stop offset="0.0256" stop-color="#666666"/><stop offset="0.0513" stop-color="#a6a6a6"/><stop offset="0.0769" stop-color="#a6a6a6"/><stop offset="0.1026" stop-color="#a6a6a6"/><stop offset="0.1282" stop-color="#a6a6a6"/><stop offset="0.1538" stop-color="#989898"/><stop offset="0.1795" stop-color="#8e8e8e"/><stop offset="0.2051" stop-color="#2e2e2e"/><stop offset="0.2308" stop-color="#8e8e8e"/><stop offset="0.2564" stop-color="#6d6d6d"/><stop offset="0.2821" stop-color="#929292"/><stop offset="0.3077" stop-color="#818181"/><stop offset="0.3333" stop-color="#2e2e2e"/><stop offset="0.3590" stop-color="#909090"/><stop offset="0.3846" stop-color="#a6a6a6"/><stop offset="0.4103" stop-color="#868686"/><stop offset="0.4359" stop-color="#8b8b8b"/><stop offset="0.4615" stop-color="#7b7b7b"/><stop offset="0.4872" stop-color="#878787"/><stop offset="0.5128" stop-color="#414141"/><stop offset="0.5385" stop-color="#8f8f8f"/><stop offset="0.5641" stop-color="#a6a6a6"/><stop offset="0.5897" stop-color="#898989"/><stop offset="0.6154" stop-color="#888888"/><stop offset="0.6410" stop-color="#787878"/><stop offset="0.6667" stop-color="#cacaca"/><stop offset="0.6923" stop-color="#8a8a8a"/><stop offset="0.7179" stop-color="#cacaca"/><stop offset="0.7436" stop-color="#7b7b7b"/><stop offset="0.7692" stop-color="#989898"/><stop offset="0.7949" stop-color="#8d8d8d"/><stop offset="0.8205" stop-color="#5a5a5a"/><stop offset="0.8462" stop-color="#676767"/><stop offset="0.8718" stop-color="#696969"/><stop offset="0.8974" stop-color="#797979"/><stop offset="0.9231" stop-color="#656565"/><stop offset="0.9487" stop-color="#808080"/><stop offset="0.9744" stop-color="#929292"/><stop offset="1.0000" stop-color="#818181"/></linearGradient>
<linearGradient id="row21" gradientUnits="userSpaceOnUse" x1="398" y1="0" x2="556" y2="0"><stop offset="0.0000" stop-color="#a6a6a6"/><stop offset="0.0256" stop-color="#929292"/><stop offset="0.0513" stop-color="#2e2e2e"/><stop offset="0.0769" stop-color="#717171"/><stop offset="0.1026" stop-color="#a6a6a6"/><stop offset="0.1282" stop-color="#989898"/><stop offset="0.1538" stop-color="#414141"/><stop offset="0.1795" stop-color="#828282"/><stop offset="0.2051" stop-color="#7c7c7c"/><stop offset="0.2308" stop-color="#a6a6a6"/><stop offset="0.2564" stop-color="#777777"/><stop offset="0.2821" stop-color="#909090"/><stop offset="0.3077" stop-color="#7a7a7a"/><stop offset="0.3333" stop-color="#a6a6a6"/><stop offset="0.3590" stop-color="#919191"/><stop offset="0.3846" stop-color="#989898"/><stop offset="0.4103" stop-color="#a6a6a6"/><stop offset="0.4359" stop-color="#828282"/><stop offset="0.4615" stop-color="#6f6f6f"/><stop offset="0.4872" stop-color="#a6a6a6"/><stop offset="0.5128" stop-color="#a6a6a6"/><stop offset="0.5385" stop-color="#b8b8b8"/><stop offset="0.5641" stop-color="#dddddd"/><stop offset="0.5897" stop-color="#7e7e7e"/><stop offset="0.6154" stop-color="#8c8c8c"/><stop offset="0.6410" stop-color="#a6a6a6"/><stop offset="0.6667" stop-color="#414141"/><stop offset="0.6923" stop-color="#737373"/><stop offset="0.7179" stop-color="#858585"/><stop offset="0.7436" stop-color="#929292"/><stop offset="0.7692" stop-color="#989898"/><stop offset="0.7949" stop-color="#808080"/><stop offset="0.8205" stop-color="#717171"/><stop offset="0.8462" stop-color="#777777"/><stop offset="0.8718" stop-color="#676767"/><stop offset="0.8974" stop-color="#7f7f7f"/><stop offset="0.9231" stop-color="#a6a6a6"/><stop offset="0.9487" stop-color="#5a5a5a"/><stop offset="0.9744" stop-color="#707070"/><stop offset="1.0000" stop-color="#cacaca"/></linearGradient>
<linearGradient id="row22" gradientUnits="userSpaceOnUse" x1="398" y1="0" x2="556" y2="0"><stop offset="0.0000" stop-color="#656565"/><stop offset="0.0256" stop-color="#7a7a7a"/><stop offset="0.0513" stop-color="#878787"/><stop offset="0.0769" stop-color="#929292"/><stop offset="0.1026" stop-color="#787878"/><stop offset="0.1282" stop-color="#989898"/><stop offset="0.1538" stop-color="#6e6e6e"/><stop offset="0.1795" stop-color="#929292"/><stop offset="0.2051" stop-color="#888888"/><stop offset="0.2308" stop-color="#929292"/><stop offset="0.2564" stop-color="#b8b8b8"/><stop offset="0.2821" stop-color="#797979"/><stop offset="0.3077" stop-color="#858585"/><stop offset="0.3333" stop-color="#6f6f6f"/><stop offset="0.3590" stop-color="#414141"/><stop offset="0.3846" stop-color="#6c6c6c"/><stop offset="0.4103" stop-color="#888888"/><stop offset="0.4359" stop-color="#777777"/><stop offset="0.4615" stop-color="#666666"/><stop offset="0.4872" stop-color="#cacaca"/><stop offset="0.5128" stop-color="#656565"/><stop offset="0.5385" stop-color="#929292"/><stop offset="0.5641" stop-color="#a6a6a6"/><stop offset="0.5897" stop-color="#a6a6a6"/><stop offset="0.6154" stop-color="#656565"/><stop offset="0.6410" stop-color="#414141"/><stop offset="0.6667" stop-color="#717171"/><stop offset="0.6923" stop-color="#939393"/><stop offset="0.7179" stop-color="#a6a6a6"/><stop offset="0.7436" stop-color="#7a7a7a"/><stop offset="0.7692" stop-color="#989898"/><stop offset="0.7949" stop-color="#a6a6a6"/><stop offset="0.8205" stop-color="#868686"/><stop offset="0.8462" stop-color="#989898"/><stop offset="0.8718" stop-color="#8b8b8b"/><stop offset="0.8974" stop-color="#a6a6a6"/><stop offset="0.9231" stop-color="#989898"/><stop offset="0.9487" stop-color="#a6a6a6"/><stop offset="0.9744" stop-color="#838383"/><stop offset="1.0000" stop-color="#686868"/></linearGradient>
<linearGradient id="row23" gradientUnits="userSpaceOnUse" x1="398" y1="0" x2="556" y2="0"><stop offset="0.0000" stop-color="#414141"/><stop offset="0.0256" stop-color="#8e8e8e"/><stop offset="0.0513" stop-color="#656565"/><stop offset="0.0769" stop-color="#737373"/><stop offset="0.1026" stop-color="#a6a6a6"/><stop offset="0.1282" stop-color="#5a5a5a"/><stop offset="0.1538" stop-color="#a6a6a6"/><stop offset="0.1795" stop-color="#929292"/><stop offset="0.2051" stop-color="#8d8d8d"/><stop offset="0.2308" stop-color="#959595"/><stop offset="0.2564" stop-color="#989898"/><stop offset="0.2821" stop-color="#818181"/><stop offset="0.3077" stop-color="#a6a6a6"/><stop offset="0.3333" stop-color="#929292"/><stop offset="0.3590" stop-color="#5a5a5a"/><stop offset="0.3846" stop-color="#1c1c1c"/><stop offset="0.4103" stop-color="#838383"/><stop offset="0.4359" stop-color="#a6a6a6"/><stop offset="0.4615" stop-color="#656565"/><stop offset="0.4872" stop-color="#5a5a5a"/><stop offset="0.5128" stop-color="#2e2e2e"/><stop offset="0.5385" stop-color="#727272"/><stop offset="0.5641" stop-color="#929292"/><stop offset="0.5897" stop-color="#818181"/><stop offset="0.6154" stop-color="#414141"/><stop offset="0.6410" stop-color="#a6a6a6"/><stop offset="0.6667" stop-color="#929292"/><stop offset="0.6923" stop-color="#989898"/><stop offset="0.7179" stop-color="#929292"/><stop offset="0.7436" stop-color="#2e2e2e"/><stop offset="0.7692" stop-color="#737373"/><stop offset="0.7949" stop-color="#5a5a5a"/><stop offset="0.8205" stop-color="#757575"/><stop offset="0.8462" stop-color="#717171"/><stop offset="0.8718" stop-color="#898989"/><stop offset="0.8974" stop-color="#737373"/><stop offset="0.9231" stop-color="#838383"/><stop offset="0.9487" stop-color="#6f6f6f"/><stop offset="0.9744" stop-color="#939393"/><stop offset="1.0000" stop-color="#5a5a5a"/></linearGradient>
<linearGradient id="row24" gradientUnits="userSpaceOnUse" x1="398" y1="0" x2="556" y2="0"><stop offset="0.0000" stop-color="#8d8d8d"/><stop offset="0.0256" stop-color="#a6a6a6"/><stop offset="0.0513" stop-color="#a6a6a6"/><stop offset="0.0769" stop-color="#8a8a8a"/><stop offset="0.1026" stop-color="#676767"/><stop offset="0.1282" stop-color="#838383"/><stop offset="0.1538" stop-color="#727272"/><stop offset="0.1795" stop-color="#a6a6a6"/><stop offset="0.2051" stop-color="#dddddd"/><stop offset="0.2308" stop-color="#929292"/><stop offset="0.2564" stop-color="#929292"/><stop offset="0.2821" stop-color="#dddddd"/><stop offset="0.3077" stop-color="#797979"/><stop offset="0.3333" stop-color="#5a5a5a"/><stop offset="0.3590" stop-color="#a6a6a6"/><stop offset="0.3846" stop-color="#858585"/><stop offset="0.4103" stop-color="#696969"/><stop offset="0.4359" stop-color="#797979"/><stop offset="0.4615" stop-color="#989898"/><stop offset="0.4872" stop-color="#737373"/><stop offset="0.5128" stop-color="#7c7c7c"/><stop offset="0.5385" stop-color="#7a7a7a"/><stop offset="0.5641" stop-color="#666666"/><stop offset="0.5897" stop-color="#979797"/><stop offset="0.6154" stop-color="#cacaca"/><stop offset="0.6410" stop-color="#8b8b8b"/><stop offset="0.6667" stop-color="#828282"/><stop offset="0.6923" stop-color="#2e2e2e"/><stop offset="0.7179" stop-color="#959595"/><stop offset="0.7436" stop-color="#a6a6a6"/><stop offset="0.7692" stop-color="#b8b8b8"/><stop offset="0.7949" stop-color="#a6a6a6"/><stop offset="0.8205" stop-color="#959595"/><stop offset="0.8462" stop-color="#767676"/><stop offset="0.8718" stop-color="#919191"/><stop offset="0.8974" stop-color="#8d8d8d"/><stop offset="0.9231" stop-color="#868686"/><stop offset="0.9487" stop-color="#989898"/><stop offset="0.9744" stop-color="#767676"/><stop offset="1.0000" stop-color="#919191"/></linearGradient>
<linearGradient id="row25" gradientUnits="userSpaceOnUse" x1="398" y1="0" x2="556" y2="0"><stop offset="0.0000" stop-color="#5a5a5a"/><stop offset="0.0256" stop-color="#dddddd"/><stop offset="0.0513" stop-color="#a6a6a6"/><stop offset="0.0769" stop-color="#5a5a5a"/><stop offset="0.1026" stop-color="#8b8b8b"/><stop offset="0.1282" stop-color="#7e7e7e"/><stop offset="0.1538" stop-color="#757575"/><stop offset="0.1795" stop-color="#5a5a5a"/><stop offset="0.2051" stop-color="#868686"/><stop offset="0.2308" stop-color="#656565"/><stop offset="0.2564" stop-color="#959595"/><stop offset="0.2821" stop-color="#5a5a5a"/><stop offset="0.3077" stop-color="#414141"/><stop offset="0.3333" stop-color="#a6a6a6"/><stop offset="0.3590" stop-color="#757575"/><stop offset="0.3846" stop-color="#a6a6a6"/><stop offset="0.4103" stop-color="#414141"/><stop offset="0.4359" stop-color="#989898"/><stop offset="0.4615" stop-color="#8b8b8b"/><stop offset="0.4872" stop-color="#a6a6a6"/><stop offset="0.5128" stop-color="#7a7a7a"/><stop offset="0.5385" stop-color="#979797"/><stop offset="0.5641" stop-color="#929292"/><stop offset="0.5897" stop-color="#838383"/><stop offset="0.6154" stop-color="#a6a6a6"/><stop offset="0.6410" stop-color="#7c7c7c"/><stop offset="0.6667" stop-color="#a6a6a6"/><stop offset="0.6923" stop-color="#808080"/><stop offset="0.7179" stop-color="#919191"/><stop offset="0.7436" stop-color="#747474"/><stop offset="0.7692" stop-color="#868686"/><stop offset="0.7949" stop-color="#929292"/><stop offset="0.8205" stop-color="#929292"/><stop offset="0.8462" stop-color="#414141"/><stop offset="0.8718" stop-color="#8e8e8e"/><stop offset="0.8974" stop-color="#a6a6a6"/><stop offset="0.9231" stop-color="#868686"/><stop offset="0.9487" stop-color="#cacaca"/><stop offset="0.9744" stop-color="#7c7c7c"/><stop offset="1.0000" stop-color="#838383"/></linearGradient>
<linearGradient id="row26" gradientUnits="userSpaceOnUse" x1="398" y1="0" x2="556" y2="0"><stop offset="0.0000" stop-color="#929292"/><stop offset="0.0256" stop-color="#2e2e2e"/><stop offset="0.0513" stop-color="#949494"/><stop offset="0.0769" stop-color="#cacaca"/><stop offset="0.1026" stop-color="#7f7f7f"/><stop offset="0.1282" stop-color="#b8b8b8"/><stop offset="0.1538" stop-color="#737373"/><stop offset="0.1795" stop-color="#2e2e2e"/><stop offset="0.2051" stop-color="#a6a6a6"/><stop offset="0.2308" stop-color="#8b8b8b"/><stop offset="0.2564" stop-color="#808080"/><stop offset="0.2821" stop-color="#808080"/><stop offset="0.3077" stop-color="#b8b8b8"/><stop offset="0.3333" stop-color="#969696"/><stop offset="0.3590" stop-color="#656565"/><stop offset="0.3846" stop-color="#5a5a5a"/><stop offset="0.4103" stop-color="#5a5a5a"/><stop offset="0.4359" stop-color="#a6a6a6"/><stop offset="0.4615" stop-color="#a6a6a6"/><stop offset="0.4872" stop-color="#888888"/><stop offset="0.5128" stop-color="#5a5a5a"/><stop offset="0.5385" stop-color="#5a5a5a"/><stop offset="0.5641" stop-color="#7e7e7e"/><stop offset="0.5897" stop-color="#2e2e2e"/><stop offset="0.6154" stop-color="#888888"/><stop offset="0.6410" stop-color="#868686"/><stop offset="0.6667" stop-color="#929292"/><stop offset="0.6923" stop-color="#8f8f8f"/><stop offset="0.7179" stop-color="#6a6a6a"/><stop offset="0.7436" stop-color="#989898"/><stop offset="0.7692" stop-color="#858585"/><stop offset="0.7949" stop-color="#929292"/><stop offset="0.8205" stop-color="#848484"/><stop offset="0.8462" stop-color="#5a5a5a"/><stop offset="0.8718" stop-color="#818181"/><stop offset="0.8974" stop-color="#414141"/><stop offset="0.9231" stop-color="#656565"/><stop offset="0.9487" stop-color="#656565"/><stop offset="0.9744" stop-color="#757575"/><stop offset="1.0000" stop-color="#676767"/></linearGradient>
<linearGradient id="row27" gradientUnits="userSpaceOnUse" x1="398" y1="0" x2="556" y2="0"><stop offset="0.0000" stop-color="#818181"/><stop offset="0.0256" stop-color="#989898"/><stop offset="0.0513" stop-color="#a6a6a6"/><stop offset="0.0769" stop-color="#a6a6a6"/><stop offset="0.1026" stop-color="#cacaca"/><stop offset="0.1282" stop-color="#a6a6a6"/><stop offset="0.1538" stop-color="#8e8e8e"/><stop offset="0.1795" stop-color="#858585"/><stop offset="0.2051" stop-color="#a6a6a6"/><stop offset="0.2308" stop-color="#5a5a5a"/><stop offset="0.2564" stop-color="#5a5a5a"/><stop offset="0.2821" stop-color="#a6a6a6"/><stop offset="0.3077" stop-color="#7c7c7c"/><stop offset="0.3333" stop-color="#8e8e8e"/><stop offset="0.3590" stop-color="#cacaca"/><stop offset="0.3846" stop-color="#5a5a5a"/><stop offset="0.4103" stop-color="#414141"/><stop offset="0.4359" stop-color="#989898"/><stop offset="0.4615" stop-color="#929292"/><stop offset="0.4872" stop-color="#7e7e7e"/><stop offset="0.5128" stop-color="#7d7d7d"/><stop offset="0.5385" stop-color="#7d7d7d"/><stop offset="0.5641" stop-color="#b8b8b8"/><stop offset="0.5897" stop-color="#878787"/><stop offset="0.6154" stop-color="#818181"/><stop offset="0.6410" stop-color="#6e6e6e"/><stop offset="0.6667" stop-color="#949494"/><stop offset="0.6923" stop-color="#414141"/><stop offset="0.7179" stop-color="#989898"/><stop offset="0.7436" stop-color="#5a5a5a"/><stop offset="0.7692" stop-color="#5a5a5a"/><stop offset="0.7949" stop-color="#696969"/><stop offset="0.8205" stop-color="#dddddd"/><stop offset="0.8462" stop-color="#858585"/><stop offset="0.8718" stop-color="#828282"/><stop offset="0.8974" stop-color="#8b8b8b"/><stop offset="0.9231" stop-color="#858585"/><stop offset="0.9487" stop-color="#b8b8b8"/><stop offset="0.9744" stop-color="#929292"/><stop offset="1.0000" stop-color="#7a7a7a"/></linearGradient>
<linearGradient id="row28" gradientUnits="userSpaceOnUse" x1="398" y1="0" x2="556" y2="0"><stop offset="0.0000" stop-color="#676767"/><stop offset="0.0256" stop-color="#868686"/><stop offset="0.0513" stop-color="#929292"/><stop offset="0.0769" stop-color="#6c6c6c"/><stop offset="0.1026" stop-color="#a6a6a6"/><stop offset="0.1282" stop-color="#a6a6a6"/><stop offset="0.1538" stop-color="#8d8d8d"/><stop offset="0.1795" stop-color="#7b7b7b"/><stop offset="0.2051" stop-color="#707070"/><stop offset="0.2308" stop-color="#828282"/><stop offset="0.2564" stop-color="#8c8c8c"/><stop offset="0.2821" stop-color="#5a5a5a"/><stop offset="0.3077" stop-color="#808080"/><stop offset="0.3333" stop-color="#8e8e8e"/><stop offset="0.3590" stop-color="#b8b8b8"/><stop offset="0.3846" stop-color="#5a5a5a"/><stop offset="0.4103" stop-color="#5a5a5a"/><stop offset="0.4359" stop-color="#979797"/><stop offset="0.4615" stop-color="#868686"/><stop offset="0.4872" stop-color="#cacaca"/><stop offset="0.5128" stop-color="#929292"/><stop offset="0.5385" stop-color="#8a8a8a"/><stop offset="0.5641" stop-color="#989898"/><stop offset="0.5897" stop-color="#cacaca"/><stop offset="0.6154" stop-color="#878787"/><stop offset="0.6410" stop-color="#858585"/><stop offset="0.6667" stop-color="#898989"/><stop offset="0.6923" stop-color="#727272"/><stop offset="0.7179" stop-color="#dddddd"/><stop offset="0.7436" stop-color="#cacaca"/><stop offset="0.7692" stop-color="#5a5a5a"/><stop offset="0.7949" stop-color="#878787"/><stop offset="0.8205" stop-color="#2e2e2e"/><stop offset="0.8462" stop-color="#8c8c8c"/><stop offset="0.8718" stop-color="#6d6d6d"/><stop offset="0.8974" stop-color="#cacaca"/><stop offset="0.9231" stop-color="#666666"/><stop offset="0.9487" stop-color="#979797"/><stop offset="0.9744" stop-color="#b8b8b8"/><stop offset="1.0000" stop-color="#949494"/></linearGradient>
<linearGradient id="row29" gradientUnits="userSpaceOnUse" x1="398" y1="0" x2="556" y2="0"><stop offset="0.0000" stop-color="#929292"/><stop offset="0.0256" stop-color="#8d8d8d"/><stop offset="0.0513" stop-color="#656565"/><stop offset="0.0769" stop-color="#939393"/><stop offset="0.1026" stop-color="#929292"/><stop offset="0.1282" stop-color="#a6a6a6"/><stop offset="0.1538" stop-color="#5a5a5a"/><stop offset="0.1795" stop-color="#a6a6a6"/><stop offset="0.2051" stop-color="#a6a6a6"/><stop offset="0.2308" stop-color="#727272"/><stop offset="0.2564" stop-color="#929292"/><stop offset="0.2821" stop-color="#5a5a5a"/><stop offset="0.3077" stop-color="#929292"/><stop offset="0.3333" stop-color="#8e8e8e"/><stop offset="0.3590" stop-color="#969696"/><stop offset="0.3846" stop-color="#a6a6a6"/><stop offset="0.4103" stop-color="#a6a6a6"/><stop offset="0.4359" stop-color="#8e8e8e"/><stop offset="0.4615" stop-color="#828282"/><stop offset="0.4872" stop-color="#909090"/><stop offset="0.5128" stop-color="#6f6f6f"/><stop offset="0.5385" stop-color="#777777"/><stop offset="0.5641" stop-color="#818181"/><stop offset="0.5897" stop-color="#8b8b8b"/><stop offset="0.6154" stop-color="#a6a6a6"/><stop offset="0.6410" stop-color="#818181"/><stop offset="0.6667" stop-color="#7a7a7a"/><stop offset="0.6923" stop-color="#929292"/><stop offset="0.7179" stop-color="#2e2e2e"/><stop offset="0.7436" stop-color="#747474"/><stop offset="0.7692" stop-color="#787878"/><stop offset="0.7949" stop-color="#b8b8b8"/><stop offset="0.8205" stop-color="#7e7e7e"/><stop offset="0.8462" stop-color="#5a5a5a"/><stop offset="0.8718" stop-color="#666666"/><stop offset="0.8974" stop-color="#a6a6a6"/><stop offset="0.9231" stop-color="#414141"/><stop offset="0.9487" stop-color="#929292"/><stop offset="0.9744" stop-color="#848484"/><stop offset="1.0000" stop-color="#8d8d8d"/></linearGradient>
<linearGradient id="row30" gradientUnits="userSpaceOnUse" x1="398" y1="0" x2="556" y2="0"><stop offset="0.0000" stop-color="#a6a6a6"/><stop offset="0.0256" stop-color="#909090"/><stop offset="0.0513" stop-color="#a6a6a6"/><stop offset="0.0769" stop-color="#8b8b8b"/><stop offset="0.1026" stop-color="#929292"/><stop offset="0.1282" stop-color="#838383"/><stop offset="0.1538" stop-color="#414141"/><stop offset="0.1795" stop-color="#cacaca"/><stop offset="0.2051" stop-color="#a6a6a6"/><stop offset="0.2308" stop-color="#a6a6a6"/><stop offset="0.2564" stop-color="#8c8c8c"/><stop offset="0.2821" stop-color="#6f6f6f"/><stop offset="0.3077" stop-color="#989898"/><stop offset="0.3333" stop-color="#cacaca"/><stop offset="0.3590" stop-color="#808080"/><stop offset="0.3846" stop-color="#828282"/><stop offset="0.4103" stop-color="#737373"/><stop offset="0.4359" stop-color="#767676"/><stop offset="0.4615" stop-color="#929292"/><stop offset="0.4872" stop-color="#8b8b8b"/><stop offset="0.5128" stop-color="#929292"/><stop offset="0.5385" stop-color="#828282"/><stop offset="0.5641" stop-color="#868686"/><stop offset="0.5897" stop-color="#989898"/><stop offset="0.6154" stop-color="#a6a6a6"/><stop offset="0.6410" stop-color="#7b7b7b"/><stop offset="0.6667" stop-color="#828282"/><stop offset="0.6923" stop-color="#7f7f7f"/><stop offset="0.7179" stop-color="#929292"/><stop offset="0.7436" stop-color="#8d8d8d"/><stop offset="0.7692" stop-color="#6e6e6e"/><stop offset="0.7949" stop-color="#727272"/><stop offset="0.8205" stop-color="#929292"/><stop offset="0.8462" stop-color="#7e7e7e"/><stop offset="0.8718" stop-color="#989898"/><stop offset="0.8974" stop-color="#a6a6a6"/><stop offset="0.9231" stop-color="#1c1c1c"/><stop offset="0.9487" stop-color="#7e7e7e"/><stop offset="0.9744" stop-color="#929292"/><stop offset="1.0000" stop-color="#717171"/></linearGradient>
<linearGradient id="row31" gradientUnits="userSpaceOnUse" x1="398" y1="0" x2="556" y2="0"><stop offset="0.0000" stop-color="#efefef"/><stop offset="0.0256" stop-color="#a6a6a6"/><stop offset="0.0513" stop-color="#cacaca"/><stop offset="0.0769" stop-color="#6c6c6c"/><stop offset="0.1026" stop-color="#5a5a5a"/><stop offset="0.1282" stop-color="#737373"/><stop offset="0.1538" stop-color="#5a5a5a"/><stop offset="0.1795" stop-color="#7d7d7d"/><stop offset="0.2051" stop-color="#929292"/><stop offset="0.2308" stop-color="#a6a6a6"/><stop offset="0.2564" stop-color="#7f7f7f"/><stop offset="0.2821" stop-color="#848484"/><stop offset="0.3077" stop-color="#5a5a5a"/><stop offset="0.3333" stop-color="#8a8a8a"/><stop offset="0.3590" stop-color="#818181"/><stop offset="0.3846" stop-color="#989898"/><stop offset="0.4103" stop-color="#797979"/><stop offset="0.4359" stop-color="#a6a6a6"/><stop offset="0.4615" stop-color="#8e8e8e"/><stop offset="0.4872" stop-color="#848484"/><stop offset="0.5128" stop-color="#838383"/><stop offset="0.5385" stop-color="#8a8a8a"/><stop offset="0.5641" stop-color="#878787"/><stop offset="0.5897" stop-color="#989898"/><stop offset="0.6154" stop-color="#858585"/><stop offset="0.6410" stop-color="#7d7d7d"/><stop offset="0.6667" stop-color="#878787"/><stop offset="0.6923" stop-color="#5a5a5a"/><stop offset="0.7179" stop-color="#7b7b7b"/><stop offset="0.7436" stop-color="#858585"/><stop offset="0.7692" stop-color="#a6a6a6"/><stop offset="0.7949" stop-color="#8a8a8a"/><stop offset="0.8205" stop-color="#cacaca"/><stop offset="0.8462" stop-color="#797979"/><stop offset="0.8718" stop-color="#929292"/><stop offset="0.8974" stop-color="#989898"/><stop offset="0.9231" stop-color="#7b7b7b"/><stop offset="0.9487" stop-color="#414141"/><stop offset="0.9744" stop-color="#dddddd"/><stop offset="1.0000" stop-color="#787878"/></linearGradient>
<linearGradient id="row32" gradientUnits="userSpaceOnUse" x1="398" y1="0" x2="556" y2="0"><stop offset="0.0000" stop-color="#a6a6a6"/><stop offset="0.0256" stop-color="#929292"/><stop offset="0.0513" stop-color="#a6a6a6"/><stop offset="0.0769" stop-color="#8b8b8b"/><stop offset="0.1026" stop-color="#989898"/><stop offset="0.1282" stop-color="#a6a6a6"/><stop offset="0.1538" stop-color="#7d7d7d"/><stop offset="0.1795" stop-color="#7e7e7e"/><stop offset="0.2051" stop-color="#929292"/><stop offset="0.2308" stop-color="#929292"/><stop offset="0.2564" stop-color="#929292"/><stop offset="0.2821" stop-color="#5a5a5a"/><stop offset="0.3077" stop-color="#717171"/><stop offset="0.3333" stop-color="#929292"/><stop offset="0.3590" stop-color="#a6a6a6"/><stop offset="0.3846" stop-color="#757575"/><stop offset="0.4103" stop-color="#5a5a5a"/><stop offset="0.4359" stop-color="#818181"/><stop offset="0.4615" stop-color="#989898"/><stop offset="0.4872" stop-color="#929292"/><stop offset="0.5128" stop-color="#939393"/><stop offset="0.5385" stop-color="#979797"/><stop offset="0.5641" stop-color="#8d8d8d"/><stop offset="0.5897" stop-color="#6e6e6e"/><stop offset="0.6154" stop-color="#929292"/><stop offset="0.6410" stop-color="#cacaca"/><stop offset="0.6667" stop-color="#a6a6a6"/><stop offset="0.6923" stop-color="#909090"/><stop offset="0.7179" stop-color="#838383"/><stop offset="0.7436" stop-color="#989898"/><stop offset="0.7692" stop-color="#8d8d8d"/><stop offset="0.7949" stop-color="#5a5a5a"/><stop offset="0.8205" stop-color="#818181"/><stop offset="0.8462" stop-color="#7e7e7e"/><stop offset="0.8718" stop-color="#5a5a5a"/><stop offset="0.8974" stop-color="#747474"/><stop offset="0.9231" stop-color="#a6a6a6"/><stop offset="0.9487" stop-color="#656565"/><stop offset="0.9744" stop-color="#838383"/><stop offset="1.0000" stop-color="#989898"/></linearGradient>
<linearGradient id="row33" gradientUnits="userSpaceOnUse" x1="398" y1="0" x2="556" y2="0"><stop offset="0.0000" stop-color="#5a5a5a"/><stop offset="0.0256" stop-color="#828282"/><stop offset="0.0513" stop-color="#989898"/><stop offset="0.0769" stop-color="#6c6c6c"/><stop offset="0.1026" stop-color="#8b8b8b"/><stop offset="0.1282" stop-color="#a6a6a6"/><stop offset="0.1538" stop-color="#929292"/><stop offset="0.1795" stop-color="#7a7a7a"/><stop offset="0.2051" stop-color="#5a5a5a"/><stop offset="0.2308" stop-color="#7f7f7f"/><stop offset="0.2564" stop-color="#8e8e8e"/><stop offset="0.2821" stop-color="#6f6f6f"/><stop offset="0.3077" stop-color="#777777"/><stop offset="0.3333" stop-color="#a6a6a6"/><stop offset="0.3590" stop-color="#818181"/><stop offset="0.3846" stop-color="#797979"/><stop offset="0.4103" stop-color="#a6a6a6"/><stop offset="0.4359" stop-color="#989898"/><stop offset="0.4615" stop-color="#858585"/><stop offset="0.4872" stop-color="#5a5a5a"/><stop offset="0.5128" stop-color="#8f8f8f"/><stop offset="0.5385" stop-color="#a6a6a6"/><stop offset="0.5641" stop-color="#a6a6a6"/><stop offset="0.5897" stop-color="#a6a6a6"/><stop offset="0.6154" stop-color="#888888"/><stop offset="0.6410" stop-color="#989898"/><stop offset="0.6667" stop-color="#414141"/><stop offset="0.6923" stop-color="#a6a6a6"/><stop offset="0.7179" stop-color="#989898"/><stop offset="0.7436" stop-color="#8d8d8d"/><stop offset="0.7692" stop-color="#cacaca"/><stop offset="0.7949" stop-color="#7c7c7c"/><stop offset="0.8205" stop-color="#cacaca"/><stop offset="0.8462" stop-color="#cacaca"/><stop offset="0.8718" stop-color="#a6a6a6"/><stop offset="0.8974" stop-color="#797979"/><stop offset="0.9231" stop-color="#a6a6a6"/><stop offset="0.9487" stop-color="#848484"/><stop offset="0.9744" stop-color="#989898"/><stop offset="1.0000" stop-color="#868686"/></linearGradient>
<linearGradient id="row34" gradientUnits="userSpaceOnUse" x1="398" y1="0" x2="556" y2="0"><stop offset="0.0000" stop-color="#929292"/><stop offset="0.0256" stop-color="#8a8a8a"/><stop offset="0.0513" stop-color="#a6a6a6"/><stop offset="0.0769" stop-color="#929292"/><stop offset="0.1026" stop-color="#a6a6a6"/><stop offset="0.1282" stop-color="#414141"/><stop offset="0.1538" stop-color="#7e7e7e"/><stop offset="0.1795" stop-color="#919191"/><stop offset="0.2051" stop-color="#7f7f7f"/><stop offset="0.2308" stop-color="#a6a6a6"/><stop offset="0.2564" stop-color="#cacaca"/><stop offset="0.2821" stop-color="#a6a6a6"/><stop offset="0.3077" stop-color="#7e7e7e"/><stop offset="0.3333" stop-color="#414141"/><stop offset="0.3590" stop-color="#7f7f7f"/><stop offset="0.3846" stop-color="#848484"/><stop offset="0.4103" stop-color="#5a5a5a"/><stop offset="0.4359" stop-color="#6e6e6e"/><stop offset="0.4615" stop-color="#a6a6a6"/><stop offset="0.4872" stop-color="#8c8c8c"/><stop offset="0.5128" stop-color="#929292"/><stop offset="0.5385" stop-color="#414141"/><stop offset="0.5641" stop-color="#8c8c8c"/><stop offset="0.5897" stop-color="#818181"/><stop offset="0.6154" stop-color="#5a5a5a"/><stop offset="0.6410" stop-color="#6e6e6e"/><stop offset="0.6667" stop-color="#7d7d7d"/><stop offset="0.6923" stop-color="#808080"/><stop offset="0.7179" stop-color="#808080"/><stop offset="0.7436" stop-color="#a6a6a6"/><stop offset="0.7692" stop-color="#909090"/><stop offset="0.7949" stop-color="#414141"/><stop offset="0.8205" stop-color="#717171"/><stop offset="0.8462" stop-color="#828282"/><stop offset="0.8718" stop-color="#989898"/><stop offset="0.8974" stop-color="#707070"/><stop offset="0.9231" stop-color="#818181"/><stop offset="0.9487" stop-color="#686868"/><stop offset="0.9744" stop-color="#7a7a7a"/><stop offset="1.0000" stop-color="#696969"/></linearGradient>
<linearGradient id="row35" gradientUnits="userSpaceOnUse" x1="398" y1="0" x2="556" y2="0"><stop offset="0.0000" stop-color="#7d7d7d"/><stop offset="0.0256" stop-color="#5a5a5a"/><stop offset="0.0513" stop-color="#6c6c6c"/><stop offset="0.0769" stop-color="#cacaca"/><stop offset="0.1026" stop-color="#777777"/><stop offset="0.1282" stop-color="#717171"/><stop offset="0.1538" stop-color="#a6a6a6"/><stop offset="0.1795" stop-color="#7b7b7b"/><stop offset="0.2051" stop-color="#414141"/><stop offset="0.2308" stop-color="#a6a6a6"/><stop offset="0.2564" stop-color="#6c6c6c"/><stop offset="0.2821" stop-color="#929292"/><stop offset="0.3077" stop-color="#cacaca"/><stop offset="0.3333" stop-color="#717171"/><stop offset="0.3590" stop-color="#8b8b8b"/><stop offset="0.3846" stop-color="#7a7a7a"/><stop offset="0.4103" stop-color="#5a5a5a"/><stop offset="0.4359" stop-color="#5a5a5a"/><stop offset="0.4615" stop-color="#656565"/><stop offset="0.4872" stop-color="#414141"/><stop offset="0.5128" stop-color="#848484"/><stop offset="0.5385" stop-color="#6d6d6d"/><stop offset="0.5641" stop-color="#b8b8b8"/><stop offset="0.5897" stop-color="#dddddd"/><stop offset="0.6154" stop-color="#909090"/><stop offset="0.6410" stop-color="#a6a6a6"/><stop offset="0.6667" stop-color="#a6a6a6"/><stop offset="0.6923" stop-color="#939393"/><stop offset="0.7179" stop-color="#6b6b6b"/><stop offset="0.7436" stop-color="#6b6b6b"/><stop offset="0.7692" stop-color="#797979"/><stop offset="0.7949" stop-color="#929292"/><stop offset="0.8205" stop-color="#797979"/><stop offset="0.8462" stop-color="#cacaca"/><stop offset="0.8718" stop-color="#7c7c7c"/><stop offset="0.8974" stop-color="#8f8f8f"/><stop offset="0.9231" stop-color="#7e7e7e"/><stop offset="0.9487" stop-color="#898989"/><stop offset="0.9744" stop-color="#808080"/><stop offset="1.0000" stop-color="#747474"/></linearGradient>
<linearGradient id="row36" gradientUnits="userSpaceOnUse" x1="398" y1="0" x2="556" y2="0"><stop offset="0.0000" stop-color="#7e7e7e"/><stop offset="0.0256" stop-color="#6c6c6c"/><stop offset="0.0513" stop-color="#a6a6a6"/><stop offset="0.0769" stop-color="#5a5a5a"/><stop offset="0.1026" stop-color="#747474"/><stop offset="0.1282" stop-color="#989898"/><stop offset="0.1538" stop-color="#868686"/><stop offset="0.1795" stop-color="#cacaca"/><stop offset="0.2051" stop-color="#929292"/><stop offset="0.2308" stop-color="#7c7c7c"/><stop offset="0.2564" stop-color="#414141"/><stop offset="0.2821" stop-color="#979797"/><stop offset="0.3077" stop-color="#929292"/><stop offset="0.3333" stop-color="#656565"/><stop offset="0.3590" stop-color="#848484"/><stop offset="0.3846" stop-color="#929292"/><stop offset="0.4103" stop-color="#414141"/><stop offset="0.4359" stop-color="#808080"/><stop offset="0.4615" stop-color="#929292"/><stop offset="0.4872" stop-color="#5a5a5a"/><stop offset="0.5128" stop-color="#5a5a5a"/><stop offset="0.5385" stop-color="#656565"/><stop offset="0.5641" stop-color="#858585"/><stop offset="0.5897" stop-color="#828282"/><stop offset="0.6154" stop-color="#707070"/><stop offset="0.6410" stop-color="#cacaca"/><stop offset="0.6667" stop-color="#8f8f8f"/><stop offset="0.6923" stop-color="#5a5a5a"/><stop offset="0.7179" stop-color="#686868"/><stop offset="0.7436" stop-color="#7e7e7e"/><stop offset="0.7692" stop-color="#929292"/><stop offset="0.7949" stop-color="#5a5a5a"/><stop offset="0.8205" stop-color="#818181"/><stop offset="0.8462" stop-color="#7b7b7b"/><stop offset="0.8718" stop-color="#898989"/><stop offset="0.8974" stop-color="#919191"/><stop offset="0.9231" stop-color="#5a5a5a"/><stop offset="0.9487" stop-color="#a6a6a6"/><stop offset="0.9744" stop-color="#929292"/><stop offset="1.0000" stop-color="#7d7d7d"/></linearGradient>
<linearGradient id="row37" gradientUnits="userSpaceOnUse" x1="398" y1="0" x2="556" y2="0"><stop offset="0.0000" stop-color="#797979"/><stop offset="0.0256" stop-color="#7a7a7a"/><stop offset="0.0513" stop-color="#6c6c6c"/><stop offset="0.0769" stop-color="#7e7e7e"/><stop offset="0.1026" stop-color="#929292"/><stop offset="0.1282" stop-color="#5a5a5a"/><stop offset="0.1538" stop-color="#414141"/><stop offset="0.1795" stop-color="#656565"/><stop offset="0.2051" stop-color="#929292"/><stop offset="0.2308" stop-color="#a6a6a6"/><stop offset="0.2564" stop-color="#7f7f7f"/><stop offset="0.2821" stop-color="#656565"/><stop offset="0.3077" stop-color="#7f7f7f"/><stop offset="0.3333" stop-color="#929292"/><stop offset="0.3590" stop-color="#cacaca"/><stop offset="0.3846" stop-color="#5a5a5a"/><stop offset="0.4103" stop-color="#a6a6a6"/><stop offset="0.4359" stop-color="#6e6e6e"/><stop offset="0.4615" stop-color="#dddddd"/><stop offset="0.4872" stop-color="#949494"/><stop offset="0.5128" stop-color="#a6a6a6"/><stop offset="0.5385" stop-color="#cacaca"/><stop offset="0.5641" stop-color="#cacaca"/><stop offset="0.5897" stop-color="#808080"/><stop offset="0.6154" stop-color="#989898"/><stop offset="0.6410" stop-color="#929292"/><stop offset="0.6667" stop-color="#989898"/><stop offset="0.6923" stop-color="#808080"/><stop offset="0.7179" stop-color="#828282"/><stop offset="0.7436" stop-color="#929292"/><stop offset="0.7692" stop-color="#717171"/><stop offset="0.7949" stop-color="#909090"/><stop offset="0.8205" stop-color="#929292"/><stop offset="0.8462" stop-color="#414141"/><stop offset="0.8718" stop-color="#6b6b6b"/><stop offset="0.8974" stop-color="#5a5a5a"/><stop offset="0.9231" stop-color="#929292"/><stop offset="0.9487" stop-color="#929292"/><stop offset="0.9744" stop-color="#929292"/><stop offset="1.0000" stop-color="#777777"/></linearGradient>
<linearGradient id="row38" gradientUnits="userSpaceOnUse" x1="398" y1="0" x2="556" y2="0"><stop offset="0.0000" stop-color="#929292"/><stop offset="0.0256" stop-color="#a6a6a6"/><stop offset="0.0513" stop-color="#414141"/><stop offset="0.0769" stop-color="#2e2e2e"/><stop offset="0.1026" stop-color="#cacaca"/><stop offset="0.1282" stop-color="#cacaca"/><stop offset="0.1538" stop-color="#5a5a5a"/><stop offset="0.1795" stop-color="#b8b8b8"/><stop offset="0.2051" stop-color="#a6a6a6"/><stop offset="0.2308" stop-color="#dddddd"/><stop offset="0.2564" stop-color="#5a5a5a"/><stop offset="0.2821" stop-color="#a6a6a6"/><stop offset="0.3077" stop-color="#5a5a5a"/><stop offset="0.3333" stop-color="#a6a6a6"/><stop offset="0.3590" stop-color="#7f7f7f"/><stop offset="0.3846" stop-color="#5a5a5a"/><stop offset="0.4103" stop-color="#929292"/><stop offset="0.4359" stop-color="#929292"/><stop offset="0.4615" stop-color="#747474"/><stop offset="0.4872" stop-color="#5a5a5a"/><stop offset="0.5128" stop-color="#5a5a5a"/><stop offset="0.5385" stop-color="#909090"/><stop offset="0.5641" stop-color="#7b7b7b"/><stop offset="0.5897" stop-color="#8f8f8f"/><stop offset="0.6154" stop-color="#1c1c1c"/><stop offset="0.6410" stop-color="#cacaca"/><stop offset="0.6667" stop-color="#8e8e8e"/><stop offset="0.6923" stop-color="#767676"/><stop offset="0.7179" stop-color="#1c1c1c"/><stop offset="0.7436" stop-color="#818181"/><stop offset="0.7692" stop-color="#929292"/><stop offset="0.7949" stop-color="#868686"/><stop offset="0.8205" stop-color="#6f6f6f"/><stop offset="0.8462" stop-color="#5a5a5a"/><stop offset="0.8718" stop-color="#989898"/><stop offset="0.8974" stop-color="#6d6d6d"/><stop offset="0.9231" stop-color="#868686"/><stop offset="0.9487" stop-color="#5a5a5a"/><stop offset="0.9744" stop-color="#848484"/><stop offset="1.0000" stop-color="#dddddd"/></linearGradient>
<linearGradient id="row39" gradientUnits="userSpaceOnUse" x1="398" y1="0" x2="556" y2="0"><stop offset="0.0000" stop-color="#929292"/><stop offset="0.0256" stop-color="#a6a6a6"/><stop offset="0.0513" stop-color="#989898"/><stop offset="0.0769" stop-color="#656565"/><stop offset="0.1026" stop-color="#929292"/><stop offset="0.1282" stop-color="#929292"/><stop offset="0.1538" stop-color="#898989"/><stop offset="0.1795" stop-color="#1c1c1c"/><stop offset="0.2051" stop-color="#a6a6a6"/><stop offset="0.2308" stop-color="#cacaca"/><stop offset="0.2564" stop-color="#929292"/><stop offset="0.2821" stop-color="#888888"/><stop offset="0.3077" stop-color="#2e2e2e"/><stop offset="0.3333" stop-color="#797979"/><stop offset="0.3590" stop-color="#7f7f7f"/><stop offset="0.3846" stop-color="#838383"/><stop offset="0.4103" stop-color="#808080"/><stop offset="0.4359" stop-color="#929292"/><stop offset="0.4615" stop-color="#cacaca"/><stop offset="0.4872" stop-color="#a6a6a6"/><stop offset="0.5128" stop-color="#929292"/><stop offset="0.5385" stop-color="#767676"/><stop offset="0.5641" stop-color="#7a7a7a"/><stop offset="0.5897" stop-color="#797979"/><stop offset="0.6154" stop-color="#959595"/><stop offset="0.6410" stop-color="#929292"/><stop offset="0.6667" stop-color="#979797"/><stop offset="0.6923" stop-color="#818181"/><stop offset="0.7179" stop-color="#cacaca"/><stop offset="0.7436" stop-color="#7f7f7f"/><stop offset="0.7692" stop-color="#a6a6a6"/><stop offset="0.7949" stop-color="#878787"/><stop offset="0.8205" stop-color="#828282"/><stop offset="0.8462" stop-color="#666666"/><stop offset="0.8718" stop-color="#989898"/><stop offset="0.8974" stop-color="#656565"/><stop offset="0.9231" stop-color="#7c7c7c"/><stop offset="0.9487" stop-color="#989898"/><stop offset="0.9744" stop-color="#5a5a5a"/><stop offset="1.0000" stop-color="#7f7f7f"/></linearGradient>
<linearGradient id="ramp0" gradientUnits="userSpaceOnUse" x1="0" y1="410.000" x2="0" y2="406.359"><stop offset="0" stop-color="#000"/><stop offset="1" stop-color="#fff"/></linearGradient><mask id="m0" maskUnits="userSpaceOnUse" x="390" y="260" width="180" height="160"><rect x="390" y="260" width="180" height="160" fill="url(#ramp0)"/></mask>
<linearGradient id="ramp1" gradientUnits="userSpaceOnUse" x1="0" y1="406.359" x2="0" y2="402.718"><stop offset="0" stop-color="#000"/><stop offset="1" stop-color="#fff"/></linearGradient><mask id="m1" maskUnits="userSpaceOnUse" x="390" y="260" width="180" height="160"><rect x="390" y="260" width="180" height="160" fill="url(#ramp1)"/></mask>
<linearGradient id="ramp2" gradientUnits="userSpaceOnUse" x1="0" y1="402.718" x2="0" y2="399.077"><stop offset="0" stop-color="#000"/><stop offset="1" stop-color="#fff"/></linearGradient><mask id="m2" maskUnits="userSpaceOnUse" x="390" y="260" width="180" height="160"><rect x="390" y="260" width="180" height="160" fill="url(#ramp2)"/></mask>
<linearGradient id="ramp3" gradientUnits="userSpaceOnUse" x1="0" y1="399.077" x2="0" y2="395.436"><stop offset="0" stop-color="#000"/><stop offset="1" stop-color="#fff"/></linearGradient><mask id="m3" maskUnits="userSpaceOnUse" x="390" y="260" width="180" height="160"><rect x="390" y="260" width="180" height="160" fill="url(#ramp3)"/></mask>
<linearGradient id="ramp4" gradientUnits="userSpaceOnUse" x1="0" y1="395.436" x2="0" y2="391.795"><stop offset="0" stop-color="#000"/><stop offset="1" stop-color="#fff"/></linearGradient><mask id="m4" maskUnits="userSpaceOnUse" x="390" y="260" width="180" height="160"><rect x="390" y="260" width="180" height="160" fill="url(#ramp4)"/></mask>
<linearGradient id="ramp5" gradientUnits="userSpaceOnUse" x1="0" y1="391.795" x2="0" y2="388.154"><stop offset="0" stop-color="#000"/><stop offset="1" stop-color="#fff"/></linearGradient><mask id="m5" maskUnits="userSpaceOnUse" x="390" y="260" width="180" height="160"><rect x="390" y="260" width="180" height="160" fill="url(#ramp5)"/></mask>
<linearGradient id="ramp6" gradientUnits="userSpaceOnUse" x1="0" y1="388.154" x2="0" y2="384.513"><stop offset="0" stop-color="#000"/><stop offset="1" stop-color="#fff"/></linearGradient><mask id="m6" maskUnits="userSpaceOnUse" x="390" y="260" width="180" height="160"><rect x="390" y="260" width="180" height="160" fill="url(#ramp6)"/></mask>
<linearGradient id="ramp7" gradientUnits="userSpaceOnUse" x1="0" y1="384.513" x2="0" y2="380.872"><stop offset="0" stop-color="#000"/><stop offset="1" stop-color="#fff"/></linearGradient><mask id="m7" maskUnits="userSpaceOnUse" x="390" y="260" width="180" height="160"><rect x="390" y="260" width="180" height="160" fill="url(#ramp7)"/></mask>
<linearGradient id="ramp8" gradientUnits="userSpaceOnUse" x1="0" y1="380.872" x2="0" y2="377.231"><stop offset="0" stop-color="#000"/><stop offset="1" stop-color="#fff"/></linearGradient><mask id="m8" maskUnits="userSpaceOnUse" x="390" y="260" width="180" height="160"><rect x="390" y="260" width="180" height="160" fill="url(#ramp8)"/></mask>
<linearGradient id="ramp9" gradientUnits="userSpaceOnUse" x1="0" y1="377.231" x2="0" y2="373.590"><stop offset="0" stop-color="#000"/><stop offset="1" stop-color="#fff"/></linearGradient><mask id="m9" maskUnits="userSpaceOnUse" x="390" y="260" width="180" height="160"><rect x="390" y="260" width="180" height="160" fill="url(#ramp9)"/></mask>
<linearGradient id="ramp10" gradientUnits="userSpaceOnUse" x1="0" y1="373.590" x2="0" y2="369.949"><stop offset="0" stop-color="#000"/><stop offset="1" stop-color="#fff"/></linearGradient><mask id="m10" maskUnits="userSpaceOnUse" x="390" y="260" width="180" height="160"><rect x="390" y="260" width="180" height="160" fill="url(#ramp10)"/></mask>
<linearGradient id="ramp11" gradientUnits="userSpaceOnUse" x1="0" y1="369.949" x2="0" y2="366.308"><stop offset="0" stop-color="#000"/><stop offset="1" stop-color="#fff"/></linearGradient><mask id="m11" maskUnits="userSpaceOnUse" x="390" y="260" width="180" height="160"><rect x="390" y="260" width="180" height="160" fill="url(#ramp11)"/></mask>
<linearGradient id="ramp12" gradientUnits="userSpaceOnUse" x1="0" y1="366.308" x2="0" y2="362.667"><stop offset="0" stop-color="#000"/><stop offset="1" stop-color="#fff"/></linearGradient><mask id="m12" maskUnits="userSpaceOnUse" x="390" y="260" width="180" height="160"><rect x="390" y="260" width="180" height="160" fill="url(#ramp12)"/></mask>
<linearGradient id="ramp13" gradientUnits="userSpaceOnUse" x1="0" y1="362.667" x2="0" y2="359.026"><stop offset="0" stop-color="#000"/><stop offset="1" stop-color="#fff"/></linearGradient><mask id="m13" maskUnits="userSpaceOnUse" x="390" y="260" width="180" height="160"><rect x="390" y="260" width="180" height="160" fill="url(#ramp13)"/></mask>
<linearGradient id="ramp14" gradientUnits="userSpaceOnUse" x1="0" y1="359.026" x2="0" y2="355.385"><stop offset="0" stop-color="#000"/><stop offset="1" stop-color="#fff"/></linearGradient><mask id="m14" maskUnits="userSpaceOnUse" x="390" y="260" width="180" height="160"><rect x="390" y="260" width="180" height="160" fill="url(#ramp14)"/></mask>
<linearGradient id="ramp15" gradientUnits="userSpaceOnUse" x1="0" y1="355.385" x2="0" y2="351.744"><stop offset="0" stop-color="#000"/><stop offset="1" stop-color="#fff"/></linearGradient><mask id="m15" maskUnits="userSpaceOnUse" x="390" y="260" width="180" height="160"><rect x="390" y="260" width="180" height="160" fill="url(#ramp15)"/></mask>
<linearGradient id="ramp16" gradientUnits="userSpaceOnUse" x1="0" y1="351.744" x2="0" y2="348.103"><stop offset="0" stop-color="#000"/><stop offset="1" stop-color="#fff"/></linearGradient><mask id="m16" maskUnits="userSpaceOnUse" x="390" y="260" width="180" height="160"><rect x="390" y="260" width="180" height="160" fill="url(#ramp16)"/></mask>
<linearGradient id="ramp17" gradientUnits="userSpaceOnUse" x1="0" y1="348.103" x2="0" y2="344.462"><stop offset="0" stop-color="#000"/><stop offset="1" stop-color="#fff"/></linearGradient><mask id="m17" maskUnits="userSpaceOnUse" x="390" y="260" width="180" height="160"><rect x="390" y="260" width="180" height="160" fill="url(#ramp17)"/></mask>
<linearGradient id="ramp18" gradientUnits="userSpaceOnUse" x1="0" y1="344.462" x2="0" y2="340.821"><stop offset="0" stop-color="#000"/><stop offset="1" stop-color="#fff"/></linearGradient><mask id="m18" maskUnits="userSpaceOnUse" x="390" y="260" width="180" height="160"><rect x="390" y="260" width="180" height="160" fill="url(#ramp18)"/></mask>
<linearGradient id="ramp19" gradientUnits="userSpaceOnUse" x1="0" y1="340.821" x2="0" y2="337.179"><stop offset="0" stop-color="#000"/><stop offset="1" stop-color="#fff"/></linearGradient><mask id="m19" maskUnits="userSpaceOnUse" x="390" y="260" width="180" height="160"><rect x="390" y="260" width="180" height="160" fill="url(#ramp19)"/></mask>
<linearGradient id="ramp20" gradientUnits="userSpaceOnUse" x1="0" y1="337.179" x2="0" y2="333.538"><stop offset="0" stop-color="#000"/><stop offset="1" stop-color="#fff"/></linearGradient><mask id="m20" maskUnits="userSpaceOnUse" x="390" y="260" width="180" height="160"><rect x="390" y="260" width="180" height="160" fill="url(#ramp20)"/></mask>
<linearGradient id="ramp21" gradientUnits="userSpaceOnUse" x1="0" y1="333.538" x2="0" y2="329.897"><stop offset="0" stop-color="#000"/><stop offset="1" stop-color="#fff"/></linearGradient><mask id="m21" maskUnits="userSpaceOnUse" x="390" y="260" width="180" height="160"><rect x="390" y="260" width="180" height="160" fill="url(#ramp21)"/></mask>
<linearGradient id="ramp22" gradientUnits="userSpaceOnUse" x1="0" y1="329.897" x2="0" y2="326.256"><stop offset="0" stop-color="#000"/><stop offset="1" stop-color="#fff"/></linearGradient><mask id="m22" maskUnits="userSpaceOnUse" x="390" y="260" width="180" height="160"><rect x="390" y="260" width="180" height="160" fill="url(#ramp22)"/></mask>
<linearGradient id="ramp23" gradientUnits="userSpaceOnUse" x1="0" y1="326.256" x2="0" y2="322.615"><stop offset="0" stop-color="#000"/><stop offset="1" stop-color="#fff"/></linearGradient><mask id="m23" maskUnits="userSpaceOnUse" x="390" y="260" width="180" height="160"><rect x="390" y="260" width="180" height="160" fill="url(#ramp23)"/></mask>
<linearGradient id="ramp24" gradientUnits="userSpaceOnUse" x1="0" y1="322.615" x2="0" y2="318.974"><stop offset="0" stop-color="#000"/><stop offset="1" stop-color="#fff"/></linearGradient><mask id="m24" maskUnits="userSpaceOnUse" x="390" y="260" width="180" height="160"><rect x="390" y="260" width="180" height="160" fill="url(#ramp24)"/></mask>
<linearGradient id="ramp25" gradientUnits="userSpaceOnUse" x1="0" y1="318.974" x2="0" y2="315.333"><stop offset="0" stop-color="#000"/><stop offset="1" stop-color="#fff"/></linearGradient><mask id="m25" maskUnits="userSpaceOnUse" x="390" y="260" width="180" height="160"><rect x="390" y="260" width="180" height="160" fill="url(#ramp25)"/></mask>
<linearGradient id="ramp26" gradientUnits="userSpaceOnUse" x1="0" y1="315.333" x2="0" y2="311.692"><stop offset="0" stop-color="#000"/><stop offset="1" stop-color="#fff"/></linearGradient><mask id="m26" maskUnits="userSpaceOnUse" x="390" y="260" width="180" height="160"><rect x="390" y="260" width="180" height="160" fill="url(#ramp26)"/></mask>
<linearGradient id="ramp27" gradientUnits="userSpaceOnUse" x1="0" y1="311.692" x2="0" y2="308.051"><stop offset="0" stop-color="#000"/><stop offset="1" stop-color="#fff"/></linearGradient><mask id="m27" maskUnits="userSpaceOnUse" x="390" y="260" width="180" height="160"><rect x="390" y="260" width="180" height="160" fill="url(#ramp27)"/></mask>
<linearGradient id="ramp28" gradientUnits="userSpaceOnUse" x1="0" y1="308.051" x2="0" y2="304.410"><stop offset="0" stop-color="#000"/><stop offset="1" stop-color="#fff"/></linearGradient><mask id="m28" maskUnits="userSpaceOnUse" x="390" y="260" width="180" height="160"><rect x="390" y="260" width="180" height="160" fill="url(#ramp28)"/></mask>
<linearGradient id="ramp29" gradientUnits="userSpaceOnUse" x1="0" y1="304.410" x2="0" y2="300.769"><stop offset="0" stop-color="#000"/><stop offset="1" stop-color="#fff"/></linearGradient><mask id="m29" maskUnits="userSpaceOnUse" x="390" y="260" width="180" height="160"><rect x="390" y="260" width="180" height="160" fill="url(#ramp29)"/></mask>
<linearGradient id="ramp30" gradientUnits="userSpaceOnUse" x1="0" y1="300.769" x2="0" y2="297.128"><stop offset="0" stop-color="#000"/><stop offset="1" stop-color="#fff"/></linearGradient><mask id="m30" maskUnits="userSpaceOnUse" x="390" y="260" width="180" height="160"><rect x="390" y="260" width="180" height="160" fill="url(#ramp30)"/></mask>
<linearGradient id="ramp31" gradientUnits="userSpaceOnUse" x1="0" y1="297.128" x2="0" y2="293.487"><stop offset="0" stop-color="#000"/><stop offset="1" stop-color="#fff"/></linearGradient><mask id="m31" maskUnits="userSpaceOnUse" x="390" y="260" width="180" height="160"><rect x="390" y="260" width="180" height="160" fill="url(#ramp31)"/></mask>
<linearGradient id="ramp32" gradientUnits="userSpaceOnUse" x1="0" y1="293.487" x2="0" y2="289.846"><stop offset="0" stop-color="#000"/><stop offset="1" stop-color="#fff"/></linearGradient><mask id="m32" maskUnits="userSpaceOnUse" x="390" y="260" width="180" height="160"><rect x="390" y="260" width="180" height="160" fill="url(#ramp32)"/></mask>
<linearGradient id="ramp33" gradientUnits="userSpaceOnUse" x1="0" y1="289.846" x2="0" y2="286.205"><stop offset="0" stop-color="#000"/><stop offset="1" stop-color="#fff"/></linearGradient><mask id="m33" maskUnits="userSpaceOnUse" x="390" y="260" width="180" height="160"><rect x="390" y="260" width="180" height="160" fill="url(#ramp33)"/></mask>
<linearGradient id="ramp34" gradientUnits="userSpaceOnUse" x1="0" y1="286.205" x2="0" y2="282.564"><stop offset="0" stop-color="#000"/><stop offset="1" stop-color="#fff"/></linearGradient><mask id="m34" maskUnits="userSpaceOnUse" x="390" y="260" width="180" height="160"><rect x="390" y="260" width="180" height="160" fill="url(#ramp34)"/></mask>
<linearGradient id="ramp35" gradientUnits="userSpaceOnUse" x1="0" y1="282.564" x2="0" y2="278.923"><stop offset="0" stop-color="#000"/><stop offset="1" stop-color="#fff"/></linearGradient><mask id="m35" maskUnits="userSpaceOnUse" x="390" y="260" width="180" height="160"><rect x="390" y="260" width="180" height="160" fill="url(#ramp35)"/></mask>
<linearGradient id="ramp36" gradientUnits="userSpaceOnUse" x1="0" y1="278.923" x2="0" y2="275.282"><stop offset="0" stop-color="#000"/><stop offset="1" stop-color="#fff"/></linearGradient><mask id="m36" maskUnits="userSpaceOnUse" x="390" y="260" width="180" height="160"><rect x="390" y="260" width="180" height="160" fill="url(#ramp36)"/></mask>
<linearGradient id="ramp37" gradientUnits="userSpaceOnUse" x1="0" y1="275.282" x2="0" y2="271.641"><stop offset="0" stop-color="#000"/><stop offset="1" stop-color="#fff"/></linearGradient><mask id="m37" maskUnits="userSpaceOnUse" x="390" y="260" width="180" height="160"><rect x="390" y="260" width="180" height="160" fill="url(#ramp37)"/></mask>
<linearGradient id="ramp38" gradientUnits="userSpaceOnUse" x1="0" y1="271.641" x2="0" y2="268.000"><stop offset="0" stop-color="#000"/><stop offset="1" stop-color="#fff"/></linearGradient><mask id="m38" maskUnits="userSpaceOnUse" x="390" y="260" width="180" height="160"><rect x="390" y="260" width="180" height="160" fill="url(#ramp38)"/></mask></defs>
<rect width="640" height="480" fill="#fff"/>
<g clip-path="url(#clip4)"><g filter="url(#jet)">
<rect x="392" y="262" width="170" height="154" fill="url(#row0)"/>
<rect x="392" y="262" width="170" height="148.000" fill="url(#row1)" mask="url(#m0)"/>
<rect x="392" y="262" width="170" height="144.359" fill="url(#row2)" mask="url(#m1)"/>
<rect x="392" y="262" width="170" height="140.718" fill="url(#row3)" mask="url(#m2)"/>
<rect x="392" y="262" width="170" height="137.077" fill="url(#row4)" mask="url(#m3)"/>
<rect x="392" y="262" width="170" height="133.436" fill="url(#row5)" mask="url(#m4)"/>
<rect x="392" y="262" width="170" height="129.795" fill="url(#row6)" mask="url(#m5)"/>
<rect x="392" y="262" width="170" height="126.154" fill="url(#row7)" mask="url(#m6)"/>
<rect x="392" y="262" width="170" height="122.513" fill="url(#row8)" mask="url(#m7)"/>
<rect x="392" y="262" width="170" height="118.872" fill="url(#row9)" mask="url(#m8)"/>
<rect x="392" y="262" width="170" height="115.231" fill="url(#row10)" mask="url(#m9)"/>
<rect x="392" y="262" width="170" height="111.590" fill="url(#row11)" mask="url(#m10)"/>
<rect x="392" y="262" width="170" height="107.949" fill="url(#row12)" mask="url(#m11)"/>
<rect x="392" y="262" width="170" height="104.308" fill="url(#row13)" mask="url(#m12)"/>
<rect x="392" y="262" width="170" height="100.667" fill="url(#row14)" mask="url(#m13)"/>
<rect x="392" y="262" width="170" height="97.026" fill="url(#row15)" mask="url(#m14)"/>
<rect x="392" y="262" width="170" height="93.385" fill="url(#row16)" mask="url(#m15)"/>
<rect x="392" y="262" width="170" height="89.744" fill="url(#row17)" mask="url(#m16)"/>
<rect x="392" y="262" width="170" height="86.103" fill="url(#row18)" mask="url(#m17)"/>
<rect x="392" y="262" width="170" height="82.462" fill="url(#row19)" mask="url(#m18)"/>
<rect x="392" y="262" width="170" height="78.821" fill="url(#row20)" mask="url(#m19)"/>
<rect x="392" y="262" width="170" height="75.179" fill="url(#row21)" mask="url(#m20)"/>
<rect x="392" y="262" width="170" height="71.538" fill="url(#row22)" mask="url(#m21)"/>
<rect x="392" y="262" width="170" height="67.897" fill="url(#row23)" mask="url(#m22)"/>
<rect x="392" y="262" width="170" height="64.256" fill="url(#row24)" mask="url(#m23)"/>
<rect x="392" y="262" width="170" height="60.615" fill="url(#row25)" mask="url(#m24)"/>
<rect x="392" y="262" width="170" height="56.974" fill="url(#row26)" mask="url(#m25)"/>
<rect x="392" y="262" width="170" height="53.333" fill="url(#row27)" mask="url(#m26)"/>
<rect x="392" y="262" width="170" height="49.692" fill="url(#row28)" mask="url(#m27)"/>
<rect x="392" y="262" width="170" height="46.051" fill="url(#row29)" mask="url(#m28)"/>
<rect x="392" y="262" width="170" height="42.410" fill="url(#row30)" mask="url(#m29)"/>
<rect x="392" y="262" width="170" height="38.769" fill="url(#row31)" mask="url(#m30)"/>
<rect x="392" y="262" width="170" height="35.128" fill="url(#row32)" mask="url(#m31)"/>
<rect x="392" y="262" width="170" height="31.487" fill="url(#row33)" mask="url(#m32)"/>
<rect x="392" y="262" width="170" height="27.846" fill="url(#row34)" mask="url(#m33)"/>
<rect x="392" y="262" width="170" height="24.205" fill="url(#row35)" mask="url(#m34)"/>
<rect x="392" y="262" width="170" height="20.564" fill="url(#row36)" mask="url(#m35)"/>
<rect x="392" y="262" width="170" height="16.923" fill="url(#row37)" mask="url(#m36)"/>
<rect x="392" y="262" width="170" height="13.282" fill="url(#row38)" mask="url(#m37)"/>
<rect x="392" y="262" width="170" height="9.641" fill="url(#row39)" mask="url(#m38)"/>
</g></g>
<text transform="translate(78.74 21) scale(1.1865 1)" font-size="15.5" stroke="#000" stroke-width="0.3">Note</text>
<text transform="translate(122.01 21) scale(1.0868 1)" font-size="15.5" stroke="#000" stroke-width="0.3">zz</text>
<text transform="translate(142.60 21) scale(1.3283 1)" font-size="15.5" stroke="#000" stroke-width="0.3">is</text>
<text transform="translate(161.39 21) scale(1.2924 1)" font-size="15.5" stroke="#000" stroke-width="0.3">mutable</text>
<text transform="translate(237.48 21) scale(1.0833 1)" font-size="15.5" stroke="#000" stroke-width="0.3">so</text>
<text transform="translate(259.69 21) scale(1.2282 1)" font-size="15.5" stroke="#000" stroke-width="0.3">dataset</text>
<text transform="translate(327.70 21) scale(1.2099 1)" font-size="15.5" stroke="#000" stroke-width="0.3">command</text>
<text transform="translate(414.88 21) scale(1.2411 1)" font-size="15.5" stroke="#000" stroke-width="0.3">modifies</text>
<rect x="96" y="58" width="158" height="142" fill="url(#r1)"/>
<rect x="84.5" y="48.5" width="182" height="162" fill="none" stroke="#000" stroke-width="1"/>
<rect x="80" y="210" width="4" height="1" fill="#000"/>
<rect x="80" y="206" width="4" height="1" fill="#000"/>
<rect x="80" y="202" width="4" height="1" fill="#000"/>
<rect x="76" y="199" width="8" height="1" fill="#000"/>
<rect x="80" y="195" width="4" height="1" fill="#000"/>
<rect x="80" y="192" width="4" height="1" fill="#000"/>
<rect x="80" y="188" width="4" height="1" fill="#000"/>
<rect x="80" y="184" width="4" height="1" fill="#000"/>
<rect x="80" y="181" width="4" height="1" fill="#000"/>
<rect x="80" y="177" width="4" height="1" fill="#000"/>
<rect x="80" y="174" width="4" height="1" fill="#000"/>
<rect x="80" y="170" width="4" height="1" fill="#000"/>
<rect x="80" y="166" width="4" height="1" fill="#000"/>
<rect x="76" y="163" width="8" height="1" fill="#000"/>
<rect x="80" y="159" width="4" height="1" fill="#000"/>
<rect x="80" y="156" width="4" height="1" fill="#000"/>
<rect x="80" y="152" width="4" height="1" fill="#000"/>
<rect x="80" y="148" width="4" height="1" fill="#000"/>
<rect x="80" y="145" width="4" height="1" fill="#000"/>
<rect x="80" y="141" width="4" height="1" fill="#000"/>
<rect x="80" y="138" width="4" height="1" fill="#000"/>
<rect x="80" y="134" width="4" height="1" fill="#000"/>
<rect x="80" y="130" width="4" height="1" fill="#000"/>
<rect x="76" y="127" width="8" height="1" fill="#000"/>
<rect x="80" y="123" width="4" height="1" fill="#000"/>
<rect x="80" y="120" width="4" height="1" fill="#000"/>
<rect x="80" y="116" width="4" height="1" fill="#000"/>
<rect x="80" y="112" width="4" height="1" fill="#000"/>
<rect x="80" y="109" width="4" height="1" fill="#000"/>
<rect x="80" y="105" width="4" height="1" fill="#000"/>
<rect x="80" y="102" width="4" height="1" fill="#000"/>
<rect x="80" y="98" width="4" height="1" fill="#000"/>
<rect x="80" y="94" width="4" height="1" fill="#000"/>
<rect x="76" y="91" width="8" height="1" fill="#000"/>
<rect x="80" y="87" width="4" height="1" fill="#000"/>
<rect x="80" y="84" width="4" height="1" fill="#000"/>
<rect x="80" y="80" width="4" height="1" fill="#000"/>
<rect x="80" y="76" width="4" height="1" fill="#000"/>
<rect x="80" y="73" width="4" height="1" fill="#000"/>
<rect x="80" y="69" width="4" height="1" fill="#000"/>
<rect x="80" y="66" width="4" height="1" fill="#000"/>
<rect x="80" y="62" width="4" height="1" fill="#000"/>
<rect x="80" y="58" width="4" height="1" fill="#000"/>
<rect x="76" y="55" width="8" height="1" fill="#000"/>
<rect x="80" y="51" width="4" height="1" fill="#000"/>
<rect x="80" y="48" width="4" height="1" fill="#000"/>
<text transform="translate(71.5 203.8) scale(1.12 1)" text-anchor="end" font-size="12" >20</text>
<text transform="translate(71.5 167.8) scale(1.12 1)" text-anchor="end" font-size="12" >30</text>
<text transform="translate(71.5 131.8) scale(1.12 1)" text-anchor="end" font-size="12" >40</text>
<text transform="translate(71.5 95.8) scale(1.12 1)" text-anchor="end" font-size="12" >50</text>
<text transform="translate(71.5 59.8) scale(1.12 1)" text-anchor="end" font-size="12" >60</text>
<rect x="96" y="211" width="1" height="4" fill="#000"/>
<rect x="136" y="211" width="1" height="8" fill="#000"/>
<text transform="translate(135.872 233.8) scale(1.12 1)" text-anchor="middle" font-size="12" >40</text>
<rect x="177" y="211" width="1" height="4" fill="#000"/>
<rect x="217" y="211" width="1" height="8" fill="#000"/>
<text transform="translate(216.752 233.8) scale(1.12 1)" text-anchor="middle" font-size="12" >60</text>
<rect x="257" y="211" width="1" height="4" fill="#000"/>
<rect x="278" y="48" width="12" height="162" fill="url(#cb)"/>
<rect x="290" y="48" width="1" height="163" fill="#000"/>
<rect x="278" y="210" width="13" height="1" fill="#000"/>
<rect x="291" y="208" width="4" height="1" fill="#000"/>
<rect x="291" y="206" width="4" height="1" fill="#000"/>
<rect x="291" y="204" width="4" height="1" fill="#000"/>
<rect x="291" y="202" width="8" height="1" fill="#000"/>
<rect x="291" y="200" width="4" height="1" fill="#000"/>
<rect x="291" y="198" width="4" height="1" fill="#000"/>
<rect x="291" y="196" width="4" height="1" fill="#000"/>
<rect x="291" y="194" width="4" height="1" fill="#000"/>
<rect x="291" y="192" width="4" height="1" fill="#000"/>
<rect x="291" y="190" width="4" height="1" fill="#000"/>
<rect x="291" y="188" width="4" height="1" fill="#000"/>
<rect x="291" y="186" width="4" height="1" fill="#000"/>
<rect x="291" y="184" width="4" height="1" fill="#000"/>
<rect x="291" y="182" width="8" height="1" fill="#000"/>
<rect x="291" y="180" width="4" height="1" fill="#000"/>
<rect x="291" y="178" width="4" height="1" fill="#000"/>
<rect x="291" y="176" width="4" height="1" fill="#000"/>
<rect x="291" y="174" width="4" height="1" fill="#000"/>
<rect x="291" y="172" width="4" height="1" fill="#000"/>
<rect x="291" y="170" width="4" height="1" fill="#000"/>
<rect x="291" y="168" width="4" height="1" fill="#000"/>
<rect x="291" y="166" width="4" height="1" fill="#000"/>
<rect x="291" y="164" width="4" height="1" fill="#000"/>
<rect x="291" y="162" width="8" height="1" fill="#000"/>
<rect x="291" y="160" width="4" height="1" fill="#000"/>
<rect x="291" y="158" width="4" height="1" fill="#000"/>
<rect x="291" y="156" width="4" height="1" fill="#000"/>
<rect x="291" y="154" width="4" height="1" fill="#000"/>
<rect x="291" y="152" width="4" height="1" fill="#000"/>
<rect x="291" y="150" width="4" height="1" fill="#000"/>
<rect x="291" y="148" width="4" height="1" fill="#000"/>
<rect x="291" y="146" width="4" height="1" fill="#000"/>
<rect x="291" y="144" width="4" height="1" fill="#000"/>
<rect x="291" y="142" width="8" height="1" fill="#000"/>
<rect x="291" y="140" width="4" height="1" fill="#000"/>
<rect x="291" y="138" width="4" height="1" fill="#000"/>
<rect x="291" y="136" width="4" height="1" fill="#000"/>
<rect x="291" y="134" width="4" height="1" fill="#000"/>
<rect x="291" y="132" width="4" height="1" fill="#000"/>
<rect x="291" y="130" width="4" height="1" fill="#000"/>
<rect x="291" y="128" width="4" height="1" fill="#000"/>
<rect x="291" y="126" width="4" height="1" fill="#000"/>
<rect x="291" y="124" width="4" height="1" fill="#000"/>
<rect x="291" y="122" width="8" height="1" fill="#000"/>
<rect x="291" y="120" width="4" height="1" fill="#000"/>
<rect x="291" y="118" width="4" height="1" fill="#000"/>
<rect x="291" y="116" width="4" height="1" fill="#000"/>
<rect x="291" y="114" width="4" height="1" fill="#000"/>
<rect x="291" y="112" width="4" height="1" fill="#000"/>
<rect x="291" y="110" width="4" height="1" fill="#000"/>
<rect x="291" y="108" width="4" height="1" fill="#000"/>
<rect x="291" y="106" width="4" height="1" fill="#000"/>
<rect x="291" y="104" width="4" height="1" fill="#000"/>
<rect x="291" y="102" width="8" height="1" fill="#000"/>
<rect x="291" y="100" width="4" height="1" fill="#000"/>
<rect x="291" y="98" width="4" height="1" fill="#000"/>
<rect x="291" y="96" width="4" height="1" fill="#000"/>
<rect x="291" y="94" width="4" height="1" fill="#000"/>
<rect x="291" y="92" width="4" height="1" fill="#000"/>
<rect x="291" y="90" width="4" height="1" fill="#000"/>
<rect x="291" y="88" width="4" height="1" fill="#000"/>
<rect x="291" y="86" width="4" height="1" fill="#000"/>
<rect x="291" y="84" width="4" height="1" fill="#000"/>
<rect x="291" y="82" width="8" height="1" fill="#000"/>
<rect x="291" y="80" width="4" height="1" fill="#000"/>
<rect x="291" y="78" width="4" height="1" fill="#000"/>
<rect x="291" y="76" width="4" height="1" fill="#000"/>
<rect x="291" y="74" width="4" height="1" fill="#000"/>
<rect x="291" y="72" width="4" height="1" fill="#000"/>
<rect x="291" y="70" width="4" height="1" fill="#000"/>
<rect x="291" y="68" width="4" height="1" fill="#000"/>
<rect x="291" y="66" width="4" height="1" fill="#000"/>
<rect x="291" y="64" width="4" height="1" fill="#000"/>
<rect x="291" y="62" width="8" height="1" fill="#000"/>
<rect x="291" y="60" width="4" height="1" fill="#000"/>
<rect x="291" y="58" width="4" height="1" fill="#000"/>
<rect x="291" y="56" width="4" height="1" fill="#000"/>
<rect x="291" y="54" width="4" height="1" fill="#000"/>
<rect x="291" y="52" width="4" height="1" fill="#000"/>
<rect x="291" y="50" width="4" height="1" fill="#000"/>
<rect x="291" y="48" width="4" height="1" fill="#000"/>
<text transform="translate(303 206.8) scale(1.12 1)" text-anchor="start" font-size="12" >0</text>
<text transform="translate(303 186.8) scale(1.12 1)" text-anchor="start" font-size="12" >1</text>
<text transform="translate(303 166.8) scale(1.12 1)" text-anchor="start" font-size="12" >2</text>
<text transform="translate(303 146.8) scale(1.12 1)" text-anchor="start" font-size="12" >3</text>
<text transform="translate(303 126.8) scale(1.12 1)" text-anchor="start" font-size="12" >4</text>
<text transform="translate(303 106.8) scale(1.12 1)" text-anchor="start" font-size="12" >5</text>
<text transform="translate(303 86.8) scale(1.12 1)" text-anchor="start" font-size="12" >6</text>
<text transform="translate(303 66.8) scale(1.12 1)" text-anchor="start" font-size="12" >7</text>
<text transform="translate(175 39.2) scale(1.17 1)" text-anchor="middle" font-size="12" >my data 0</text>
<rect x="398" y="58" width="158" height="142" fill="url(#r2)"/>
<rect x="386.5" y="48.5" width="182" height="162" fill="none" stroke="#000" stroke-width="1"/>
<rect x="382" y="210" width="4" height="1" fill="#000"/>
<rect x="382" y="206" width="4" height="1" fill="#000"/>
<rect x="382" y="202" width="4" height="1" fill="#000"/>
<rect x="378" y="199" width="8" height="1" fill="#000"/>
<rect x="382" y="195" width="4" height="1" fill="#000"/>
<rect x="382" y="192" width="4" height="1" fill="#000"/>
<rect x="382" y="188" width="4" height="1" fill="#000"/>
<rect x="382" y="184" width="4" height="1" fill="#000"/>
<rect x="382" y="181" width="4" height="1" fill="#000"/>
<rect x="382" y="177" width="4" height="1" fill="#000"/>
<rect x="382" y="174" width="4" height="1" fill="#000"/>
<rect x="382" y="170" width="4" height="1" fill="#000"/>
<rect x="382" y="166" width="4" height="1" fill="#000"/>
<rect x="378" y="163" width="8" height="1" fill="#000"/>
<rect x="382" y="159" width="4" height="1" fill="#000"/>
<rect x="382" y="156" width="4" height="1" fill="#000"/>
<rect x="382" y="152" width="4" height="1" fill="#000"/>
<rect x="382" y="148" width="4" height="1" fill="#000"/>
<rect x="382" y="145" width="4" height="1" fill="#000"/>
<rect x="382" y="141" width="4" height="1" fill="#000"/>
<rect x="382" y="138" width="4" height="1" fill="#000"/>
<rect x="382" y="134" width="4" height="1" fill="#000"/>
<rect x="382" y="130" width="4" height="1" fill="#000"/>
<rect x="378" y="127" width="8" height="1" fill="#000"/>
<rect x="382" y="123" width="4" height="1" fill="#000"/>
<rect x="382" y="120" width="4" height="1" fill="#000"/>
<rect x="382" y="116" width="4" height="1" fill="#000"/>
<rect x="382" y="112" width="4" height="1" fill="#000"/>
<rect x="382" y="109" width="4" height="1" fill="#000"/>
<rect x="382" y="105" width="4" height="1" fill="#000"/>
<rect x="382" y="102" width="4" height="1" fill="#000"/>
<rect x="382" y="98" width="4" height="1" fill="#000"/>
<rect x="382" y="94" width="4" height="1" fill="#000"/>
<rect x="378" y="91" width="8" height="1" fill="#000"/>
<rect x="382" y="87" width="4" height="1" fill="#000"/>
<rect x="382" y="84" width="4" height="1" fill="#000"/>
<rect x="382" y="80" width="4" height="1" fill="#000"/>
<rect x="382" y="76" width="4" height="1" fill="#000"/>
<rect x="382" y="73" width="4" height="1" fill="#000"/>
<rect x="382" y="69" width="4" height="1" fill="#000"/>
<rect x="382" y="66" width="4" height="1" fill="#000"/>
<rect x="382" y="62" width="4" height="1" fill="#000"/>
<rect x="382" y="58" width="4" height="1" fill="#000"/>
<rect x="378" y="55" width="8" height="1" fill="#000"/>
<rect x="382" y="51" width="4" height="1" fill="#000"/>
<rect x="382" y="48" width="4" height="1" fill="#000"/>
<text transform="translate(373.5 203.8) scale(1.12 1)" text-anchor="end" font-size="12" >20</text>
<text transform="translate(373.5 167.8) scale(1.12 1)" text-anchor="end" font-size="12" >30</text>
<text transform="translate(373.5 131.8) scale(1.12 1)" text-anchor="end" font-size="12" >40</text>
<text transform="translate(373.5 95.8) scale(1.12 1)" text-anchor="end" font-size="12" >50</text>
<text transform="translate(373.5 59.8) scale(1.12 1)" text-anchor="end" font-size="12" >60</text>
<rect x="398" y="211" width="1" height="4" fill="#000"/>
<rect x="438" y="211" width="1" height="8" fill="#000"/>
<text transform="translate(437.872 233.8) scale(1.12 1)" text-anchor="middle" font-size="12" >40</text>
<rect x="479" y="211" width="1" height="4" fill="#000"/>
<rect x="519" y="211" width="1" height="8" fill="#000"/>
<text transform="translate(518.752 233.8) scale(1.12 1)" text-anchor="middle" font-size="12" >60</text>
<rect x="559" y="211" width="1" height="4" fill="#000"/>
<rect x="580" y="48" width="12" height="162" fill="url(#cb)"/>
<rect x="592" y="48" width="1" height="163" fill="#000"/>
<rect x="580" y="210" width="13" height="1" fill="#000"/>
<rect x="593" y="208" width="4" height="1" fill="#000"/>
<rect x="593" y="206" width="4" height="1" fill="#000"/>
<rect x="593" y="204" width="4" height="1" fill="#000"/>
<rect x="593" y="202" width="8" height="1" fill="#000"/>
<rect x="593" y="200" width="4" height="1" fill="#000"/>
<rect x="593" y="198" width="4" height="1" fill="#000"/>
<rect x="593" y="196" width="4" height="1" fill="#000"/>
<rect x="593" y="194" width="4" height="1" fill="#000"/>
<rect x="593" y="192" width="4" height="1" fill="#000"/>
<rect x="593" y="190" width="4" height="1" fill="#000"/>
<rect x="593" y="188" width="4" height="1" fill="#000"/>
<rect x="593" y="186" width="4" height="1" fill="#000"/>
<rect x="593" y="184" width="4" height="1" fill="#000"/>
<rect x="593" y="182" width="8" height="1" fill="#000"/>
<rect x="593" y="180" width="4" height="1" fill="#000"/>
<rect x="593" y="178" width="4" height="1" fill="#000"/>
<rect x="593" y="176" width="4" height="1" fill="#000"/>
<rect x="593" y="174" width="4" height="1" fill="#000"/>
<rect x="593" y="172" width="4" height="1" fill="#000"/>
<rect x="593" y="170" width="4" height="1" fill="#000"/>
<rect x="593" y="168" width="4" height="1" fill="#000"/>
<rect x="593" y="166" width="4" height="1" fill="#000"/>
<rect x="593" y="164" width="4" height="1" fill="#000"/>
<rect x="593" y="162" width="8" height="1" fill="#000"/>
<rect x="593" y="160" width="4" height="1" fill="#000"/>
<rect x="593" y="158" width="4" height="1" fill="#000"/>
<rect x="593" y="156" width="4" height="1" fill="#000"/>
<rect x="593" y="154" width="4" height="1" fill="#000"/>
<rect x="593" y="152" width="4" height="1" fill="#000"/>
<rect x="593" y="150" width="4" height="1" fill="#000"/>
<rect x="593" y="148" width="4" height="1" fill="#000"/>
<rect x="593" y="146" width="4" height="1" fill="#000"/>
<rect x="593" y="144" width="4" height="1" fill="#000"/>
<rect x="593" y="142" width="8" height="1" fill="#000"/>
<rect x="593" y="140" width="4" height="1" fill="#000"/>
<rect x="593" y="138" width="4" height="1" fill="#000"/>
<rect x="593" y="136" width="4" height="1" fill="#000"/>
<rect x="593" y="134" width="4" height="1" fill="#000"/>
<rect x="593" y="132" width="4" height="1" fill="#000"/>
<rect x="593" y="130" width="4" height="1" fill="#000"/>
<rect x="593" y="128" width="4" height="1" fill="#000"/>
<rect x="593" y="126" width="4" height="1" fill="#000"/>
<rect x="593" y="124" width="4" height="1" fill="#000"/>
<rect x="593" y="122" width="8" height="1" fill="#000"/>
<rect x="593" y="120" width="4" height="1" fill="#000"/>
<rect x="593" y="118" width="4" height="1" fill="#000"/>
<rect x="593" y="116" width="4" height="1" fill="#000"/>
<rect x="593" y="114" width="4" height="1" fill="#000"/>
<rect x="593" y="112" width="4" height="1" fill="#000"/>
<rect x="593" y="110" width="4" height="1" fill="#000"/>
<rect x="593" y="108" width="4" height="1" fill="#000"/>
<rect x="593" y="106" width="4" height="1" fill="#000"/>
<rect x="593" y="104" width="4" height="1" fill="#000"/>
<rect x="593" y="102" width="8" height="1" fill="#000"/>
<rect x="593" y="100" width="4" height="1" fill="#000"/>
<rect x="593" y="98" width="4" height="1" fill="#000"/>
<rect x="593" y="96" width="4" height="1" fill="#000"/>
<rect x="593" y="94" width="4" height="1" fill="#000"/>
<rect x="593" y="92" width="4" height="1" fill="#000"/>
<rect x="593" y="90" width="4" height="1" fill="#000"/>
<rect x="593" y="88" width="4" height="1" fill="#000"/>
<rect x="593" y="86" width="4" height="1" fill="#000"/>
<rect x="593" y="84" width="4" height="1" fill="#000"/>
<rect x="593" y="82" width="8" height="1" fill="#000"/>
<rect x="593" y="80" width="4" height="1" fill="#000"/>
<rect x="593" y="78" width="4" height="1" fill="#000"/>
<rect x="593" y="76" width="4" height="1" fill="#000"/>
<rect x="593" y="74" width="4" height="1" fill="#000"/>
<rect x="593" y="72" width="4" height="1" fill="#000"/>
<rect x="593" y="70" width="4" height="1" fill="#000"/>
<rect x="593" y="68" width="4" height="1" fill="#000"/>
<rect x="593" y="66" width="4" height="1" fill="#000"/>
<rect x="593" y="64" width="4" height="1" fill="#000"/>
<rect x="593" y="62" width="8" height="1" fill="#000"/>
<rect x="593" y="60" width="4" height="1" fill="#000"/>
<rect x="593" y="58" width="4" height="1" fill="#000"/>
<rect x="593" y="56" width="4" height="1" fill="#000"/>
<rect x="593" y="54" width="4" height="1" fill="#000"/>
<rect x="593" y="52" width="4" height="1" fill="#000"/>
<rect x="593" y="50" width="4" height="1" fill="#000"/>
<rect x="593" y="48" width="4" height="1" fill="#000"/>
<text transform="translate(605 206.8) scale(1.12 1)" text-anchor="start" font-size="12" >0</text>
<text transform="translate(605 186.8) scale(1.12 1)" text-anchor="start" font-size="12" >1</text>
<text transform="translate(605 166.8) scale(1.12 1)" text-anchor="start" font-size="12" >2</text>
<text transform="translate(605 146.8) scale(1.12 1)" text-anchor="start" font-size="12" >3</text>
<text transform="translate(605 126.8) scale(1.12 1)" text-anchor="start" font-size="12" >4</text>
<text transform="translate(605 106.8) scale(1.12 1)" text-anchor="start" font-size="12" >5</text>
<text transform="translate(605 86.8) scale(1.12 1)" text-anchor="start" font-size="12" >6</text>
<text transform="translate(605 66.8) scale(1.12 1)" text-anchor="start" font-size="12" >7</text>
<text transform="translate(477 39.2) scale(1.17 1)" text-anchor="middle" font-size="12" >my data 0</text>
<rect x="96" y="268" width="158" height="142" fill="url(#r3)"/>
<rect x="84.5" y="258.5" width="182" height="162" fill="none" stroke="#000" stroke-width="1"/>
<rect x="80" y="420" width="4" height="1" fill="#000"/>
<rect x="80" y="416" width="4" height="1" fill="#000"/>
<rect x="80" y="412" width="4" height="1" fill="#000"/>
<rect x="76" y="409" width="8" height="1" fill="#000"/>
<rect x="80" y="405" width="4" height="1" fill="#000"/>
<rect x="80" y="402" width="4" height="1" fill="#000"/>
<rect x="80" y="398" width="4" height="1" fill="#000"/>
<rect x="80" y="394" width="4" height="1" fill="#000"/>
<rect x="80" y="391" width="4" height="1" fill="#000"/>
<rect x="80" y="387" width="4" height="1" fill="#000"/>
<rect x="80" y="384" width="4" height="1" fill="#000"/>
<rect x="80" y="380" width="4" height="1" fill="#000"/>
<rect x="80" y="376" width="4" height="1" fill="#000"/>
<rect x="76" y="373" width="8" height="1" fill="#000"/>
<rect x="80" y="369" width="4" height="1" fill="#000"/>
<rect x="80" y="366" width="4" height="1" fill="#000"/>
<rect x="80" y="362" width="4" height="1" fill="#000"/>
<rect x="80" y="358" width="4" height="1" fill="#000"/>
<rect x="80" y="355" width="4" height="1" fill="#000"/>
<rect x="80" y="351" width="4" height="1" fill="#000"/>
<rect x="80" y="348" width="4" height="1" fill="#000"/>
<rect x="80" y="344" width="4" height="1" fill="#000"/>
<rect x="80" y="340" width="4" height="1" fill="#000"/>
<rect x="76" y="337" width="8" height="1" fill="#000"/>
<rect x="80" y="333" width="4" height="1" fill="#000"/>
<rect x="80" y="330" width="4" height="1" fill="#000"/>
<rect x="80" y="326" width="4" height="1" fill="#000"/>
<rect x="80" y="322" width="4" height="1" fill="#000"/>
<rect x="80" y="319" width="4" height="1" fill="#000"/>
<rect x="80" y="315" width="4" height="1" fill="#000"/>
<rect x="80" y="312" width="4" height="1" fill="#000"/>
<rect x="80" y="308" width="4" height="1" fill="#000"/>
<rect x="80" y="304" width="4" height="1" fill="#000"/>
<rect x="76" y="301" width="8" height="1" fill="#000"/>
<rect x="80" y="297" width="4" height="1" fill="#000"/>
<rect x="80" y="294" width="4" height="1" fill="#000"/>
<rect x="80" y="290" width="4" height="1" fill="#000"/>
<rect x="80" y="286" width="4" height="1" fill="#000"/>
<rect x="80" y="283" width="4" height="1" fill="#000"/>
<rect x="80" y="279" width="4" height="1" fill="#000"/>
<rect x="80" y="276" width="4" height="1" fill="#000"/>
<rect x="80" y="272" width="4" height="1" fill="#000"/>
<rect x="80" y="268" width="4" height="1" fill="#000"/>
<rect x="76" y="265" width="8" height="1" fill="#000"/>
<rect x="80" y="261" width="4" height="1" fill="#000"/>
<rect x="80" y="258" width="4" height="1" fill="#000"/>
<text transform="translate(71.5 413.8) scale(1.12 1)" text-anchor="end" font-size="12" >20</text>
<text transform="translate(71.5 377.8) scale(1.12 1)" text-anchor="end" font-size="12" >30</text>
<text transform="translate(71.5 341.8) scale(1.12 1)" text-anchor="end" font-size="12" >40</text>
<text transform="translate(71.5 305.8) scale(1.12 1)" text-anchor="end" font-size="12" >50</text>
<text transform="translate(71.5 269.8) scale(1.12 1)" text-anchor="end" font-size="12" >60</text>
<rect x="96" y="421" width="1" height="4" fill="#000"/>
<rect x="136" y="421" width="1" height="8" fill="#000"/>
<text transform="translate(135.872 443.8) scale(1.12 1)" text-anchor="middle" font-size="12" >40</text>
<rect x="177" y="421" width="1" height="4" fill="#000"/>
<rect x="217" y="421" width="1" height="8" fill="#000"/>
<text transform="translate(216.752 443.8) scale(1.12 1)" text-anchor="middle" font-size="12" >60</text>
<rect x="257" y="421" width="1" height="4" fill="#000"/>
<rect x="278" y="258" width="12" height="162" fill="url(#cb)"/>
<rect x="290" y="258" width="1" height="163" fill="#000"/>
<rect x="278" y="420" width="13" height="1" fill="#000"/>
<rect x="291" y="418" width="4" height="1" fill="#000"/>
<rect x="291" y="416" width="4" height="1" fill="#000"/>
<rect x="291" y="414" width="4" height="1" fill="#000"/>
<rect x="291" y="412" width="8" height="1" fill="#000"/>
<rect x="291" y="410" width="4" height="1" fill="#000"/>
<rect x="291" y="408" width="4" height="1" fill="#000"/>
<rect x="291" y="406" width="4" height="1" fill="#000"/>
<rect x="291" y="404" width="4" height="1" fill="#000"/>
<rect x="291" y="402" width="4" height="1" fill="#000"/>
<rect x="291" y="400" width="4" height="1" fill="#000"/>
<rect x="291" y="398" width="4" height="1" fill="#000"/>
<rect x="291" y="396" width="4" height="1" fill="#000"/>
<rect x="291" y="394" width="4" height="1" fill="#000"/>
<rect x="291" y="392" width="8" height="1" fill="#000"/>
<rect x="291" y="390" width="4" height="1" fill="#000"/>
<rect x="291" y="388" width="4" height="1" fill="#000"/>
<rect x="291" y="386" width="4" height="1" fill="#000"/>
<rect x="291" y="384" width="4" height="1" fill="#000"/>
<rect x="291" y="382" width="4" height="1" fill="#000"/>
<rect x="291" y="380" width="4" height="1" fill="#000"/>
<rect x="291" y="378" width="4" height="1" fill="#000"/>
<rect x="291" y="376" width="4" height="1" fill="#000"/>
<rect x="291" y="374" width="4" height="1" fill="#000"/>
<rect x="291" y="372" width="8" height="1" fill="#000"/>
<rect x="291" y="370" width="4" height="1" fill="#000"/>
<rect x="291" y="368" width="4" height="1" fill="#000"/>
<rect x="291" y="366" width="4" height="1" fill="#000"/>
<rect x="291" y="364" width="4" height="1" fill="#000"/>
<rect x="291" y="362" width="4" height="1" fill="#000"/>
<rect x="291" y="360" width="4" height="1" fill="#000"/>
<rect x="291" y="358" width="4" height="1" fill="#000"/>
<rect x="291" y="356" width="4" height="1" fill="#000"/>
<rect x="291" y="354" width="4" height="1" fill="#000"/>
<rect x="291" y="352" width="8" height="1" fill="#000"/>
<rect x="291" y="350" width="4" height="1" fill="#000"/>
<rect x="291" y="348" width="4" height="1" fill="#000"/>
<rect x="291" y="346" width="4" height="1" fill="#000"/>
<rect x="291" y="344" width="4" height="1" fill="#000"/>
<rect x="291" y="342" width="4" height="1" fill="#000"/>
<rect x="291" y="340" width="4" height="1" fill="#000"/>
<rect x="291" y="338" width="4" height="1" fill="#000"/>
<rect x="291" y="336" width="4" height="1" fill="#000"/>
<rect x="291" y="334" width="4" height="1" fill="#000"/>
<rect x="291" y="332" width="8" height="1" fill="#000"/>
<rect x="291" y="330" width="4" height="1" fill="#000"/>
<rect x="291" y="328" width="4" height="1" fill="#000"/>
<rect x="291" y="326" width="4" height="1" fill="#000"/>
<rect x="291" y="324" width="4" height="1" fill="#000"/>
<rect x="291" y="322" width="4" height="1" fill="#000"/>
<rect x="291" y="320" width="4" height="1" fill="#000"/>
<rect x="291" y="318" width="4" height="1" fill="#000"/>
<rect x="291" y="316" width="4" height="1" fill="#000"/>
<rect x="291" y="314" width="4" height="1" fill="#000"/>
<rect x="291" y="312" width="8" height="1" fill="#000"/>
<rect x="291" y="310" width="4" height="1" fill="#000"/>
<rect x="291" y="308" width="4" height="1" fill="#000"/>
<rect x="291" y="306" width="4" height="1" fill="#000"/>
<rect x="291" y="304" width="4" height="1" fill="#000"/>
<rect x="291" y="302" width="4" height="1" fill="#000"/>
<rect x="291" y="300" width="4" height="1" fill="#000"/>
<rect x="291" y="298" width="4" height="1" fill="#000"/>
<rect x="291" y="296" width="4" height="1" fill="#000"/>
<rect x="291" y="294" width="4" height="1" fill="#000"/>
<rect x="291" y="292" width="8" height="1" fill="#000"/>
<rect x="291" y="290" width="4" height="1" fill="#000"/>
<rect x="291" y="288" width="4" height="1" fill="#000"/>
<rect x="291" y="286" width="4" height="1" fill="#000"/>
<rect x="291" y="284" width="4" height="1" fill="#000"/>
<rect x="291" y="282" width="4" height="1" fill="#000"/>
<rect x="291" y="280" width="4" height="1" fill="#000"/>
<rect x="291" y="278" width="4" height="1" fill="#000"/>
<rect x="291" y="276" width="4" height="1" fill="#000"/>
<rect x="291" y="274" width="4" height="1" fill="#000"/>
<rect x="291" y="272" width="8" height="1" fill="#000"/>
<rect x="291" y="270" width="4" height="1" fill="#000"/>
<rect x="291" y="268" width="4" height="1" fill="#000"/>
<rect x="291" y="266" width="4" height="1" fill="#000"/>
<rect x="291" y="264" width="4" height="1" fill="#000"/>
<rect x="291" y="262" width="4" height="1" fill="#000"/>
<rect x="291" y="260" width="4" height="1" fill="#000"/>
<rect x="291" y="258" width="4" height="1" fill="#000"/>
<text transform="translate(303 416.8) scale(1.12 1)" text-anchor="start" font-size="12" >0</text>
<text transform="translate(303 396.8) scale(1.12 1)" text-anchor="start" font-size="12" >1</text>
<text transform="translate(303 376.8) scale(1.12 1)" text-anchor="start" font-size="12" >2</text>
<text transform="translate(303 356.8) scale(1.12 1)" text-anchor="start" font-size="12" >3</text>
<text transform="translate(303 336.8) scale(1.12 1)" text-anchor="start" font-size="12" >4</text>
<text transform="translate(303 316.8) scale(1.12 1)" text-anchor="start" font-size="12" >5</text>
<text transform="translate(303 296.8) scale(1.12 1)" text-anchor="start" font-size="12" >6</text>
<text transform="translate(303 276.8) scale(1.12 1)" text-anchor="start" font-size="12" >7</text>
<text transform="translate(175 249.2) scale(1.17 1)" text-anchor="middle" font-size="12" >my data 2</text>
<rect x="398" y="268" width="158" height="142" fill="none"/>
<rect x="386.5" y="258.5" width="182" height="162" fill="none" stroke="#000" stroke-width="1"/>
<rect x="382" y="420" width="4" height="1" fill="#000"/>
<rect x="382" y="416" width="4" height="1" fill="#000"/>
<rect x="382" y="412" width="4" height="1" fill="#000"/>
<rect x="378" y="409" width="8" height="1" fill="#000"/>
<rect x="382" y="405" width="4" height="1" fill="#000"/>
<rect x="382" y="402" width="4" height="1" fill="#000"/>
<rect x="382" y="398" width="4" height="1" fill="#000"/>
<rect x="382" y="394" width="4" height="1" fill="#000"/>
<rect x="382" y="391" width="4" height="1" fill="#000"/>
<rect x="382" y="387" width="4" height="1" fill="#000"/>
<rect x="382" y="384" width="4" height="1" fill="#000"/>
<rect x="382" y="380" width="4" height="1" fill="#000"/>
<rect x="382" y="376" width="4" height="1" fill="#000"/>
<rect x="378" y="373" width="8" height="1" fill="#000"/>
<rect x="382" y="369" width="4" height="1" fill="#000"/>
<rect x="382" y="366" width="4" height="1" fill="#000"/>
<rect x="382" y="362" width="4" height="1" fill="#000"/>
<rect x="382" y="358" width="4" height="1" fill="#000"/>
<rect x="382" y="355" width="4" height="1" fill="#000"/>
<rect x="382" y="351" width="4" height="1" fill="#000"/>
<rect x="382" y="348" width="4" height="1" fill="#000"/>
<rect x="382" y="344" width="4" height="1" fill="#000"/>
<rect x="382" y="340" width="4" height="1" fill="#000"/>
<rect x="378" y="337" width="8" height="1" fill="#000"/>
<rect x="382" y="333" width="4" height="1" fill="#000"/>
<rect x="382" y="330" width="4" height="1" fill="#000"/>
<rect x="382" y="326" width="4" height="1" fill="#000"/>
<rect x="382" y="322" width="4" height="1" fill="#000"/>
<rect x="382" y="319" width="4" height="1" fill="#000"/>
<rect x="382" y="315" width="4" height="1" fill="#000"/>
<rect x="382" y="312" width="4" height="1" fill="#000"/>
<rect x="382" y="308" width="4" height="1" fill="#000"/>
<rect x="382" y="304" width="4" height="1" fill="#000"/>
<rect x="378" y="301" width="8" height="1" fill="#000"/>
<rect x="382" y="297" width="4" height="1" fill="#000"/>
<rect x="382" y="294" width="4" height="1" fill="#000"/>
<rect x="382" y="290" width="4" height="1" fill="#000"/>
<rect x="382" y="286" width="4" height="1" fill="#000"/>
<rect x="382" y="283" width="4" height="1" fill="#000"/>
<rect x="382" y="279" width="4" height="1" fill="#000"/>
<rect x="382" y="276" width="4" height="1" fill="#000"/>
<rect x="382" y="272" width="4" height="1" fill="#000"/>
<rect x="382" y="268" width="4" height="1" fill="#000"/>
<rect x="378" y="265" width="8" height="1" fill="#000"/>
<rect x="382" y="261" width="4" height="1" fill="#000"/>
<rect x="382" y="258" width="4" height="1" fill="#000"/>
<text transform="translate(373.5 413.8) scale(1.12 1)" text-anchor="end" font-size="12" >20</text>
<text transform="translate(373.5 377.8) scale(1.12 1)" text-anchor="end" font-size="12" >30</text>
<text transform="translate(373.5 341.8) scale(1.12 1)" text-anchor="end" font-size="12" >40</text>
<text transform="translate(373.5 305.8) scale(1.12 1)" text-anchor="end" font-size="12" >50</text>
<text transform="translate(373.5 269.8) scale(1.12 1)" text-anchor="end" font-size="12" >60</text>
<rect x="398" y="421" width="1" height="8" fill="#000"/>
<text transform="translate(397.432 443.8) scale(1.12 1)" text-anchor="middle" font-size="12" >20</text>
<rect x="438" y="421" width="1" height="4" fill="#000"/>
<rect x="479" y="421" width="1" height="8" fill="#000"/>
<text transform="translate(478.312 443.8) scale(1.12 1)" text-anchor="middle" font-size="12" >40</text>
<rect x="519" y="421" width="1" height="4" fill="#000"/>
<rect x="559" y="421" width="1" height="8" fill="#000"/>
<text transform="translate(559.192 443.8) scale(1.12 1)" text-anchor="middle" font-size="12" >60</text>
<rect x="580" y="258" width="12" height="162" fill="url(#cb)"/>
<rect x="592" y="258" width="1" height="163" fill="#000"/>
<rect x="580" y="420" width="13" height="1" fill="#000"/>
<rect x="593" y="418" width="4" height="1" fill="#000"/>
<rect x="593" y="415" width="4" height="1" fill="#000"/>
<rect x="593" y="413" width="4" height="1" fill="#000"/>
<rect x="593" y="411" width="4" height="1" fill="#000"/>
<rect x="593" y="408" width="4" height="1" fill="#000"/>
<rect x="593" y="406" width="8" height="1" fill="#000"/>
<rect x="593" y="404" width="4" height="1" fill="#000"/>
<rect x="593" y="402" width="4" height="1" fill="#000"/>
<rect x="593" y="399" width="4" height="1" fill="#000"/>
<rect x="593" y="397" width="4" height="1" fill="#000"/>
<rect x="593" y="395" width="4" height="1" fill="#000"/>
<rect x="593" y="392" width="4" height="1" fill="#000"/>
<rect x="593" y="390" width="4" height="1" fill="#000"/>
<rect x="593" y="388" width="4" height="1" fill="#000"/>
<rect x="593" y="385" width="4" height="1" fill="#000"/>
<rect x="593" y="383" width="8" height="1" fill="#000"/>
<rect x="593" y="381" width="4" height="1" fill="#000"/>
<rect x="593" y="378" width="4" height="1" fill="#000"/>
<rect x="593" y="376" width="4" height="1" fill="#000"/>
<rect x="593" y="374" width="4" height="1" fill="#000"/>
<rect x="593" y="372" width="4" height="1" fill="#000"/>
<rect x="593" y="369" width="4" height="1" fill="#000"/>
<rect x="593" y="367" width="4" height="1" fill="#000"/>
<rect x="593" y="365" width="4" height="1" fill="#000"/>
<rect x="593" y="362" width="4" height="1" fill="#000"/>
<rect x="593" y="360" width="8" height="1" fill="#000"/>
<rect x="593" y="358" width="4" height="1" fill="#000"/>
<rect x="593" y="355" width="4" height="1" fill="#000"/>
<rect x="593" y="353" width="4" height="1" fill="#000"/>
<rect x="593" y="351" width="4" height="1" fill="#000"/>
<rect x="593" y="349" width="4" height="1" fill="#000"/>
<rect x="593" y="346" width="4" height="1" fill="#000"/>
<rect x="593" y="344" width="4" height="1" fill="#000"/>
<rect x="593" y="342" width="4" height="1" fill="#000"/>
<rect x="593" y="339" width="4" height="1" fill="#000"/>
<rect x="593" y="337" width="8" height="1" fill="#000"/>
<rect x="593" y="335" width="4" height="1" fill="#000"/>
<rect x="593" y="332" width="4" height="1" fill="#000"/>
<rect x="593" y="330" width="4" height="1" fill="#000"/>
<rect x="593" y="328" width="4" height="1" fill="#000"/>
<rect x="593" y="325" width="4" height="1" fill="#000"/>
<rect x="593" y="323" width="4" height="1" fill="#000"/>
<rect x="593" y="321" width="4" height="1" fill="#000"/>
<rect x="593" y="319" width="4" height="1" fill="#000"/>
<rect x="593" y="316" width="4" height="1" fill="#000"/>
<rect x="593" y="314" width="8" height="1" fill="#000"/>
<rect x="593" y="312" width="4" height="1" fill="#000"/>
<rect x="593" y="309" width="4" height="1" fill="#000"/>
<rect x="593" y="307" width="4" height="1" fill="#000"/>
<rect x="593" y="305" width="4" height="1" fill="#000"/>
<rect x="593" y="302" width="4" height="1" fill="#000"/>
<rect x="593" y="300" width="4" height="1" fill="#000"/>
<rect x="593" y="298" width="4" height="1" fill="#000"/>
<rect x="593" y="296" width="4" height="1" fill="#000"/>
<rect x="593" y="293" width="4" height="1" fill="#000"/>
<rect x="593" y="291" width="8" height="1" fill="#000"/>
<rect x="593" y="289" width="4" height="1" fill="#000"/>
<rect x="593" y="286" width="4" height="1" fill="#000"/>
<rect x="593" y="284" width="4" height="1" fill="#000"/>
<rect x="593" y="282" width="4" height="1" fill="#000"/>
<rect x="593" y="279" width="4" height="1" fill="#000"/>
<rect x="593" y="277" width="4" height="1" fill="#000"/>
<rect x="593" y="275" width="4" height="1" fill="#000"/>
<rect x="593" y="272" width="4" height="1" fill="#000"/>
<rect x="593" y="270" width="4" height="1" fill="#000"/>
<rect x="593" y="268" width="8" height="1" fill="#000"/>
<rect x="593" y="266" width="4" height="1" fill="#000"/>
<rect x="593" y="263" width="4" height="1" fill="#000"/>
<rect x="593" y="261" width="4" height="1" fill="#000"/>
<rect x="593" y="259" width="4" height="1" fill="#000"/>
<text transform="translate(605 411.15) scale(0.92 1)" text-anchor="start" font-size="12" >-3</text>
<text transform="translate(605 388.1) scale(0.92 1)" text-anchor="start" font-size="12" >-2</text>
<text transform="translate(605 365.05) scale(0.92 1)" text-anchor="start" font-size="12" >-1</text>
<text transform="translate(605 342) scale(1.12 1)" text-anchor="start" font-size="12" >0</text>
<text transform="translate(605 318.95) scale(1.12 1)" text-anchor="start" font-size="12" >1</text>
<text transform="translate(605 295.9) scale(1.12 1)" text-anchor="start" font-size="12" >2</text>
<text transform="translate(605 272.85) scale(1.12 1)" text-anchor="start" font-size="12" >3</text>
<text transform="translate(477 236.6) scale(1.17 1)" text-anchor="middle" font-size="12" >my data 3</text>
<text transform="translate(477 248.8) scale(1.12 1)" text-anchor="middle" font-size="12" >49.0</text>
</svg></body></html>
